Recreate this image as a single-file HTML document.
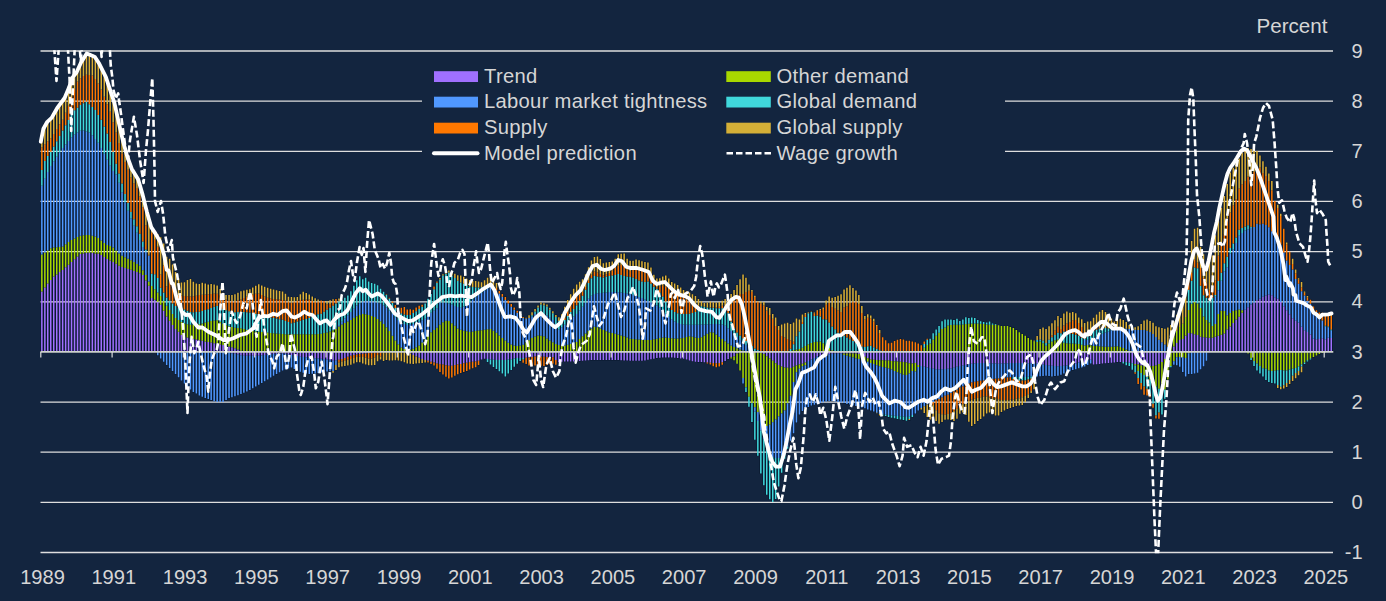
<!DOCTYPE html>
<html><head><meta charset="utf-8"><title>Chart</title><style>html,body{margin:0;padding:0;background:#13253f;}body{width:1386px;height:601px;overflow:hidden}</style></head><body>
<svg width="1386" height="601" viewBox="0 0 1386 601" style="display:block;font-family:'Liberation Sans',sans-serif">
<rect width="1386" height="601" fill="#13253f"/>
<defs><clipPath id="cp"><rect x="38" y="50.3" width="1297" height="503"/></clipPath></defs>
<path fill="#09192f" d="M40.36 136.3h2.971V352.2h-2.971zM43.34 126.0h2.971V352.2h-2.971zM46.31 121.1h2.971V352.2h-2.971zM49.28 118.4h2.971V352.2h-2.971zM52.25 113.9h2.971V352.2h-2.971zM55.22 108.5h2.971V352.2h-2.971zM58.19 104.4h2.971V352.2h-2.971zM61.16 100.4h2.971V352.2h-2.971zM64.13 95.3h2.971V352.2h-2.971zM67.10 88.2h2.971V352.2h-2.971zM70.07 79.5h2.971V352.2h-2.971zM73.05 74.7h2.971V352.2h-2.971zM76.02 70.0h2.971V352.2h-2.971zM78.99 63.3h2.971V352.2h-2.971zM81.96 58.3h2.971V352.2h-2.971zM84.93 53.6h2.971V352.2h-2.971zM87.90 54.3h2.971V352.2h-2.971zM90.87 55.6h2.971V352.2h-2.971zM93.84 57.2h2.971V352.2h-2.971zM96.81 62.0h2.971V352.2h-2.971zM99.78 67.5h2.971V352.2h-2.971zM102.76 73.5h2.971V352.2h-2.971zM105.73 80.9h2.971V352.2h-2.971zM108.70 89.8h2.971V352.2h-2.971zM111.67 98.7h2.971V352.2h-2.971zM114.64 110.2h2.971V352.2h-2.971zM117.61 123.5h2.971V352.2h-2.971zM120.58 136.9h2.971V352.2h-2.971zM123.55 148.3h2.971V352.2h-2.971zM126.52 158.2h2.971V352.2h-2.971zM129.49 166.3h2.971V352.2h-2.971zM132.47 172.1h2.971V352.2h-2.971zM135.44 177.0h2.971V352.2h-2.971zM138.41 185.0h2.971V352.2h-2.971zM141.38 195.6h2.971V352.2h-2.971zM144.35 207.5h2.971V352.2h-2.971zM147.32 218.4h2.971V352.2h-2.971zM150.29 227.6h2.971V352.2h-2.971zM153.26 232.1h2.971V352.2h-2.971zM156.23 233.7h2.971V355.6h-2.971zM159.20 236.9h2.971V358.8h-2.971zM162.18 243.3h2.971V362.0h-2.971zM165.15 256.4h2.971V365.3h-2.971zM168.12 258.5h2.971V368.2h-2.971zM171.09 264.1h2.971V371.2h-2.971zM174.06 271.6h2.971V374.2h-2.971zM177.03 277.7h2.971V377.5h-2.971zM180.00 282.3h2.971V380.8h-2.971zM182.97 281.9h2.971V383.9h-2.971zM185.94 279.8h2.971V386.9h-2.971zM188.91 278.8h2.971V389.9h-2.971zM191.89 281.5h2.971V392.2h-2.971zM194.86 283.1h2.971V393.9h-2.971zM197.83 283.7h2.971V395.7h-2.971zM200.80 282.4h2.971V397.0h-2.971zM203.77 283.1h2.971V398.2h-2.971zM206.74 284.1h2.971V399.4h-2.971zM209.71 283.6h2.971V400.4h-2.971zM212.68 284.2h2.971V401.5h-2.971zM215.65 285.3h2.971V402.3h-2.971zM218.62 288.8h2.971V402.3h-2.971zM221.60 292.4h2.971V402.3h-2.971zM224.57 294.7h2.971V400.3h-2.971zM227.54 294.7h2.971V398.4h-2.971zM230.51 294.7h2.971V397.5h-2.971zM233.48 293.9h2.971V396.6h-2.971zM236.45 292.4h2.971V395.6h-2.971zM239.42 290.9h2.971V394.3h-2.971zM242.39 290.1h2.971V393.0h-2.971zM245.36 289.5h2.971V391.7h-2.971zM248.33 288.9h2.971V390.4h-2.971zM251.31 287.2h2.971V388.6h-2.971zM254.28 285.4h2.971V386.8h-2.971zM257.25 284.0h2.971V385.1h-2.971zM260.22 285.2h2.971V383.3h-2.971zM263.19 286.4h2.971V381.5h-2.971zM266.16 287.5h2.971V379.7h-2.971zM269.13 288.4h2.971V377.9h-2.971zM272.10 289.3h2.971V376.1h-2.971zM275.07 290.0h2.971V374.4h-2.971zM278.04 290.6h2.971V372.6h-2.971zM281.02 291.2h2.971V370.8h-2.971zM283.99 293.5h2.971V369.7h-2.971zM286.96 296.4h2.971V368.8h-2.971zM289.93 296.7h2.971V367.9h-2.971zM292.90 297.0h2.971V369.2h-2.971zM295.87 296.6h2.971V370.6h-2.971zM298.84 294.0h2.971V372.1h-2.971zM301.81 291.4h2.971V373.0h-2.971zM304.78 292.8h2.971V373.8h-2.971zM307.75 294.3h2.971V374.4h-2.971zM310.73 296.1h2.971V374.1h-2.971zM313.70 297.9h2.971V373.8h-2.971zM316.67 299.3h2.971V373.3h-2.971zM319.64 300.1h2.971V372.7h-2.971zM322.61 300.6h2.971V372.1h-2.971zM325.58 300.7h2.971V371.8h-2.971zM328.55 299.9h2.971V371.5h-2.971zM331.52 299.0h2.971V373.1h-2.971zM334.49 298.6h2.971V370.2h-2.971zM337.46 298.3h2.971V367.6h-2.971zM340.44 299.4h2.971V366.9h-2.971zM343.41 297.4h2.971V366.3h-2.971zM346.38 295.2h2.971V365.7h-2.971zM349.35 291.0h2.971V365.0h-2.971zM352.32 285.5h2.971V363.8h-2.971zM355.29 280.0h2.971V362.6h-2.971zM358.26 276.0h2.971V362.5h-2.971zM361.23 279.0h2.971V363.7h-2.971zM364.20 277.4h2.971V364.9h-2.971zM367.17 281.1h2.971V365.5h-2.971zM370.15 282.7h2.971V365.6h-2.971zM373.12 283.4h2.971V365.3h-2.971zM376.09 284.9h2.971V361.6h-2.971zM379.06 288.5h2.971V359.8h-2.971zM382.03 291.5h2.971V361.2h-2.971zM385.00 293.9h2.971V360.4h-2.971zM387.97 297.4h2.971V360.8h-2.971zM390.94 301.1h2.971V360.9h-2.971zM393.91 304.8h2.971V360.5h-2.971zM396.88 307.9h2.971V360.8h-2.971zM399.86 307.5h2.971V361.5h-2.971zM402.83 306.7h2.971V362.5h-2.971zM405.80 309.3h2.971V363.7h-2.971zM408.77 309.0h2.971V364.1h-2.971zM411.74 309.5h2.971V364.3h-2.971zM414.71 307.1h2.971V363.9h-2.971zM417.68 305.4h2.971V363.6h-2.971zM420.65 304.5h2.971V363.2h-2.971zM423.62 303.3h2.971V362.7h-2.971zM426.59 298.4h2.971V362.9h-2.971zM429.57 293.6h2.971V364.2h-2.971zM432.54 286.3h2.971V365.7h-2.971zM435.51 281.1h2.971V369.0h-2.971zM438.48 277.6h2.971V372.2h-2.971zM441.45 274.0h2.971V374.8h-2.971zM444.42 271.8h2.971V377.0h-2.971zM447.39 270.1h2.971V378.7h-2.971zM450.36 271.6h2.971V377.7h-2.971zM453.33 273.4h2.971V376.0h-2.971zM456.30 274.9h2.971V374.5h-2.971zM459.28 275.2h2.971V373.3h-2.971zM462.25 276.5h2.971V372.4h-2.971zM465.22 278.4h2.971V371.4h-2.971zM468.19 279.8h2.971V369.9h-2.971zM471.16 280.7h2.971V368.6h-2.971zM474.13 280.7h2.971V367.5h-2.971zM477.10 281.2h2.971V365.3h-2.971zM480.07 281.9h2.971V359.8h-2.971zM483.04 280.0h2.971V359.1h-2.971zM486.01 277.4h2.971V362.2h-2.971zM488.99 276.7h2.971V364.8h-2.971zM491.96 277.3h2.971V367.2h-2.971zM494.93 282.6h2.971V369.4h-2.971zM497.90 290.6h2.971V371.6h-2.971zM500.87 293.6h2.971V373.9h-2.971zM503.84 296.6h2.971V376.9h-2.971zM506.81 300.1h2.971V373.7h-2.971zM509.78 303.8h2.971V370.3h-2.971zM512.75 307.2h2.971V367.0h-2.971zM515.72 310.5h2.971V364.0h-2.971zM518.70 314.0h2.971V361.4h-2.971zM521.67 316.7h2.971V363.0h-2.971zM524.64 317.5h2.971V364.3h-2.971zM527.61 315.0h2.971V365.8h-2.971zM530.58 312.0h2.971V366.2h-2.971zM533.55 308.7h2.971V365.9h-2.971zM536.52 305.3h2.971V365.8h-2.971zM539.49 302.1h2.971V366.1h-2.971zM542.46 302.9h2.971V366.2h-2.971zM545.43 304.2h2.971V365.4h-2.971zM548.41 307.5h2.971V364.5h-2.971zM551.38 310.9h2.971V364.0h-2.971zM554.35 314.6h2.971V365.0h-2.971zM557.32 317.0h2.971V362.6h-2.971zM560.29 314.0h2.971V362.0h-2.971zM563.26 306.5h2.971V361.7h-2.971zM566.23 299.7h2.971V361.7h-2.971zM569.20 293.9h2.971V361.7h-2.971zM572.17 288.4h2.971V361.7h-2.971zM575.14 284.3h2.971V361.7h-2.971zM578.12 281.4h2.971V361.4h-2.971zM581.09 278.9h2.971V361.1h-2.971zM584.06 273.9h2.971V360.8h-2.971zM587.03 266.9h2.971V360.5h-2.971zM590.00 260.2h2.971V360.4h-2.971zM592.97 256.8h2.971V360.4h-2.971zM595.94 256.3h2.971V360.4h-2.971zM598.91 258.8h2.971V360.4h-2.971zM601.88 263.0h2.971V360.4h-2.971zM604.85 262.3h2.971V360.4h-2.971zM607.83 261.6h2.971V360.4h-2.971zM610.80 261.1h2.971V360.4h-2.971zM613.77 258.5h2.971V360.4h-2.971zM616.74 253.9h2.971V360.4h-2.971zM619.71 253.5h2.971V360.6h-2.971zM622.68 253.2h2.971V360.7h-2.971zM625.65 258.4h2.971V360.9h-2.971zM628.62 260.4h2.971V361.0h-2.971zM631.59 260.4h2.971V361.0h-2.971zM634.56 259.3h2.971V361.0h-2.971zM637.54 259.9h2.971V361.0h-2.971zM640.51 261.0h2.971V361.0h-2.971zM643.48 261.6h2.971V360.7h-2.971zM646.45 262.2h2.971V360.1h-2.971zM649.42 267.1h2.971V359.5h-2.971zM652.39 274.4h2.971V359.0h-2.971zM655.36 278.2h2.971V358.4h-2.971zM658.33 277.9h2.971V358.1h-2.971zM661.30 276.3h2.971V357.8h-2.971zM664.27 275.3h2.971V357.7h-2.971zM667.25 278.1h2.971V357.7h-2.971zM670.22 281.6h2.971V357.9h-2.971zM673.19 283.3h2.971V358.1h-2.971zM676.16 284.8h2.971V358.4h-2.971zM679.13 287.2h2.971V358.7h-2.971zM682.10 289.8h2.971V359.1h-2.971zM685.07 291.0h2.971V359.9h-2.971zM688.04 292.2h2.971V360.8h-2.971zM691.01 293.9h2.971V361.5h-2.971zM693.98 295.7h2.971V362.1h-2.971zM696.96 298.7h2.971V362.4h-2.971zM699.93 300.9h2.971V362.4h-2.971zM702.90 302.8h2.971V362.5h-2.971zM705.87 302.2h2.971V363.7h-2.971zM708.84 301.1h2.971V364.7h-2.971zM711.81 301.9h2.971V366.5h-2.971zM714.78 302.3h2.971V367.5h-2.971zM717.75 301.8h2.971V366.9h-2.971zM720.72 300.4h2.971V365.1h-2.971zM723.69 298.6h2.971V361.3h-2.971zM726.67 296.3h2.971V359.3h-2.971zM729.64 293.6h2.971V358.9h-2.971zM732.61 289.8h2.971V360.5h-2.971zM735.58 284.6h2.971V364.0h-2.971zM738.55 278.9h2.971V370.8h-2.971zM741.52 274.2h2.971V383.8h-2.971zM744.49 277.4h2.971V392.2h-2.971zM747.46 284.1h2.971V407.1h-2.971zM750.43 289.7h2.971V422.4h-2.971zM753.40 295.5h2.971V440.0h-2.971zM756.38 300.8h2.971V456.0h-2.971zM759.35 301.1h2.971V473.8h-2.971zM762.32 301.8h2.971V485.6h-2.971zM765.29 306.8h2.971V495.1h-2.971zM768.26 307.8h2.971V499.6h-2.971zM771.23 313.8h2.971V502.4h-2.971zM774.20 317.3h2.971V499.3h-2.971zM777.17 325.6h2.971V486.8h-2.971zM780.14 324.1h2.971V473.0h-2.971zM783.11 323.2h2.971V459.1h-2.971zM786.09 322.5h2.971V449.0h-2.971zM789.06 323.7h2.971V441.1h-2.971zM792.03 322.1h2.971V433.6h-2.971zM795.00 318.2h2.971V422.9h-2.971zM797.97 319.1h2.971V414.8h-2.971zM800.94 314.3h2.971V411.3h-2.971zM803.91 312.7h2.971V408.9h-2.971zM806.88 311.9h2.971V407.4h-2.971zM809.85 311.1h2.971V405.9h-2.971zM812.82 312.3h2.971V405.0h-2.971zM815.80 309.9h2.971V404.1h-2.971zM818.77 308.7h2.971V403.2h-2.971zM821.74 307.2h2.971V402.5h-2.971zM824.71 300.3h2.971V401.9h-2.971zM827.68 296.2h2.971V401.3h-2.971zM830.65 297.4h2.971V401.3h-2.971zM833.62 296.6h2.971V401.8h-2.971zM836.59 295.4h2.971V402.3h-2.971zM839.56 294.0h2.971V402.8h-2.971zM842.53 289.3h2.971V403.4h-2.971zM845.51 287.4h2.971V404.2h-2.971zM848.48 284.9h2.971V404.9h-2.971zM851.45 287.8h2.971V405.7h-2.971zM854.42 290.2h2.971V406.4h-2.971zM857.39 294.8h2.971V407.1h-2.971zM860.36 305.7h2.971V407.9h-2.971zM863.33 315.7h2.971V408.6h-2.971zM866.30 314.0h2.971V409.7h-2.971zM869.27 315.3h2.971V410.8h-2.971zM872.24 318.5h2.971V411.9h-2.971zM875.22 324.8h2.971V413.6h-2.971zM878.19 329.8h2.971V415.8h-2.971zM881.16 336.9h2.971V416.1h-2.971zM884.13 339.9h2.971V416.2h-2.971zM887.10 342.9h2.971V417.4h-2.971zM890.07 342.5h2.971V418.0h-2.971zM893.04 340.7h2.971V418.6h-2.971zM896.01 339.4h2.971V419.2h-2.971zM898.98 338.6h2.971V419.8h-2.971zM901.95 339.1h2.971V420.4h-2.971zM904.93 340.5h2.971V421.0h-2.971zM907.90 340.5h2.971V420.4h-2.971zM910.87 341.1h2.971V417.2h-2.971zM913.84 342.0h2.971V413.9h-2.971zM916.81 343.1h2.971V410.9h-2.971zM919.78 344.9h2.971V409.7h-2.971zM922.75 341.1h2.971V413.2h-2.971zM925.72 338.5h2.971V417.2h-2.971zM928.69 338.5h2.971V419.9h-2.971zM931.66 332.9h2.971V420.0h-2.971zM934.64 329.3h2.971V421.3h-2.971zM937.61 325.8h2.971V424.1h-2.971zM940.58 321.0h2.971V422.2h-2.971zM943.55 319.1h2.971V420.0h-2.971zM946.52 319.1h2.971V419.7h-2.971zM949.49 319.1h2.971V420.2h-2.971zM952.46 319.6h2.971V421.3h-2.971zM955.43 318.5h2.971V419.0h-2.971zM958.40 320.7h2.971V414.1h-2.971zM961.37 319.2h2.971V412.8h-2.971zM964.35 316.9h2.971V415.3h-2.971zM967.32 317.6h2.971V422.0h-2.971zM970.29 317.1h2.971V426.4h-2.971zM973.26 317.7h2.971V424.3h-2.971zM976.23 319.7h2.971V421.2h-2.971zM979.20 320.9h2.971V419.4h-2.971zM982.17 321.7h2.971V416.9h-2.971zM985.14 322.3h2.971V413.9h-2.971zM988.11 321.2h2.971V412.8h-2.971zM991.08 323.3h2.971V414.0h-2.971zM994.06 323.7h2.971V415.7h-2.971zM997.03 325.0h2.971V415.7h-2.971zM1000.00 325.7h2.971V412.4h-2.971zM1002.97 325.7h2.971V410.9h-2.971zM1005.94 325.7h2.971V409.4h-2.971zM1008.91 326.6h2.971V408.3h-2.971zM1011.88 327.6h2.971V407.3h-2.971zM1014.85 329.6h2.971V406.3h-2.971zM1017.82 332.0h2.971V405.8h-2.971zM1020.79 333.7h2.971V405.2h-2.971zM1023.77 335.4h2.971V402.6h-2.971zM1026.74 337.6h2.971V398.3h-2.971zM1029.71 339.4h2.971V393.2h-2.971zM1032.68 340.1h2.971V389.6h-2.971zM1035.65 335.8h2.971V376.7h-2.971zM1038.62 328.7h2.971V376.5h-2.971zM1041.59 327.1h2.971V376.2h-2.971zM1044.56 328.8h2.971V376.1h-2.971zM1047.53 326.0h2.971V376.4h-2.971zM1050.50 323.0h2.971V376.7h-2.971zM1053.48 320.0h2.971V376.4h-2.971zM1056.45 315.8h2.971V376.1h-2.971zM1059.42 317.6h2.971V375.1h-2.971zM1062.39 313.1h2.971V373.9h-2.971zM1065.36 311.3h2.971V372.7h-2.971zM1068.33 312.4h2.971V371.5h-2.971zM1071.30 311.8h2.971V370.4h-2.971zM1074.27 313.0h2.971V369.5h-2.971zM1077.24 317.2h2.971V368.6h-2.971zM1080.21 319.0h2.971V367.7h-2.971zM1083.19 322.6h2.971V366.8h-2.971zM1086.16 321.3h2.971V365.3h-2.971zM1089.13 321.0h2.971V363.9h-2.971zM1092.10 317.5h2.971V364.8h-2.971zM1095.07 314.2h2.971V364.5h-2.971zM1098.04 311.4h2.971V364.2h-2.971zM1101.01 309.8h2.971V363.9h-2.971zM1103.98 311.6h2.971V363.6h-2.971zM1106.95 315.1h2.971V363.3h-2.971zM1109.92 318.1h2.971V363.0h-2.971zM1112.90 321.1h2.971V362.7h-2.971zM1115.87 318.7h2.971V362.4h-2.971zM1118.84 318.4h2.971V362.3h-2.971zM1121.81 319.6h2.971V363.9h-2.971zM1124.78 321.7h2.971V365.6h-2.971zM1127.75 324.6h2.971V366.2h-2.971zM1130.72 326.3h2.971V370.1h-2.971zM1133.69 327.0h2.971V374.1h-2.971zM1136.66 325.9h2.971V384.2h-2.971zM1139.63 323.7h2.971V389.9h-2.971zM1142.61 320.1h2.971V395.1h-2.971zM1145.58 319.1h2.971V395.7h-2.971zM1148.55 320.8h2.971V397.6h-2.971zM1151.52 322.4h2.971V408.1h-2.971zM1154.49 325.9h2.971V418.8h-2.971zM1157.46 327.0h2.971V419.1h-2.971zM1160.43 327.6h2.971V414.7h-2.971zM1163.40 328.4h2.971V399.1h-2.971zM1166.37 327.3h2.971V379.9h-2.971zM1169.34 324.7h2.971V367.6h-2.971zM1172.32 321.0h2.971V365.0h-2.971zM1175.29 314.5h2.971V365.6h-2.971zM1178.26 309.8h2.971V367.0h-2.971zM1181.23 298.0h2.971V372.3h-2.971zM1184.20 286.4h2.971V376.8h-2.971zM1187.17 268.5h2.971V374.2h-2.971zM1190.14 240.8h2.971V374.3h-2.971zM1193.11 228.5h2.971V373.7h-2.971zM1196.08 227.5h2.971V373.1h-2.971zM1199.05 246.6h2.971V369.6h-2.971zM1202.03 253.9h2.971V366.6h-2.971zM1205.00 267.0h2.971V361.0h-2.971zM1207.97 258.7h2.971V352.2h-2.971zM1210.94 255.1h2.971V352.2h-2.971zM1213.91 234.9h2.971V352.2h-2.971zM1216.88 220.2h2.971V352.2h-2.971zM1219.85 207.5h2.971V352.2h-2.971zM1222.82 195.6h2.971V352.2h-2.971zM1225.79 183.7h2.971V352.2h-2.971zM1228.76 172.2h2.971V352.2h-2.971zM1231.74 167.4h2.971V352.2h-2.971zM1234.71 162.7h2.971V352.2h-2.971zM1237.68 158.2h2.971V352.2h-2.971zM1240.65 152.4h2.971V352.2h-2.971zM1243.62 149.9h2.971V352.2h-2.971zM1246.59 147.6h2.971V353.7h-2.971zM1249.56 148.7h2.971V360.2h-2.971zM1252.53 150.3h2.971V366.2h-2.971zM1255.50 150.6h2.971V370.8h-2.971zM1258.47 155.3h2.971V373.9h-2.971zM1261.45 160.9h2.971V376.7h-2.971zM1264.42 166.4h2.971V380.2h-2.971zM1267.39 173.3h2.971V382.2h-2.971zM1270.36 180.8h2.971V383.2h-2.971zM1273.33 200.7h2.971V383.9h-2.971zM1276.30 204.5h2.971V388.2h-2.971zM1279.27 213.5h2.971V389.6h-2.971zM1282.24 228.5h2.971V388.9h-2.971zM1285.21 242.3h2.971V387.4h-2.971zM1288.18 251.5h2.971V384.4h-2.971zM1291.16 258.5h2.971V381.4h-2.971zM1294.13 269.3h2.971V378.5h-2.971zM1297.10 277.9h2.971V375.5h-2.971zM1300.07 281.8h2.971V372.6h-2.971zM1303.04 291.3h2.971V364.2h-2.971zM1306.01 295.8h2.971V361.8h-2.971zM1308.98 299.3h2.971V359.8h-2.971zM1311.95 306.3h2.971V357.4h-2.971zM1314.92 309.9h2.971V355.9h-2.971zM1317.89 312.3h2.971V354.4h-2.971zM1320.87 312.4h2.971V353.2h-2.971zM1323.84 313.7h2.971V352.6h-2.971zM1326.81 313.7h2.971V352.2h-2.971zM1329.78 313.2h2.971V352.2h-2.971zM1332.75 351.6h2.971V352.2h-2.971z"/>
<g stroke="#dedede" stroke-width="1.3"><line x1="40.5" x2="1333" y1="552.5" y2="552.5"/><line x1="40.5" x2="1333" y1="502.3" y2="502.3"/><line x1="40.5" x2="1333" y1="452.2" y2="452.2"/><line x1="40.5" x2="1333" y1="402.1" y2="402.1"/><line x1="40.5" x2="1333" y1="301.8" y2="301.8"/><line x1="40.5" x2="1333" y1="251.6" y2="251.6"/><line x1="40.5" x2="1333" y1="201.4" y2="201.4"/><line x1="40.5" x2="1333" y1="151.3" y2="151.3"/><line x1="40.5" x2="1333" y1="101.2" y2="101.2"/><line x1="40.5" x2="1333" y1="51.0" y2="51.0"/></g>
<path fill="#a070ff" d="M41.1 291.4h1.5V351.9h-1.5zM44.1 287.4h1.5V351.9h-1.5zM47.0 283.6h1.5V351.9h-1.5zM50.0 280.1h1.5V351.9h-1.5zM53.0 276.6h1.5V351.9h-1.5zM56.0 274.4h1.5V351.9h-1.5zM58.9 272.1h1.5V351.9h-1.5zM61.9 269.9h1.5V351.9h-1.5zM64.9 267.3h1.5V351.9h-1.5zM67.8 264.7h1.5V351.9h-1.5zM70.8 262.1h1.5V351.9h-1.5zM73.8 259.2h1.5V351.9h-1.5zM76.8 256.4h1.5V351.9h-1.5zM79.7 254.1h1.5V351.9h-1.5zM82.7 253.6h1.5V351.9h-1.5zM85.7 253.1h1.5V351.9h-1.5zM88.6 252.8h1.5V351.9h-1.5zM91.6 253.1h1.5V351.9h-1.5zM94.6 253.4h1.5V351.9h-1.5zM97.5 253.7h1.5V351.9h-1.5zM100.5 255.1h1.5V351.9h-1.5zM103.5 257.1h1.5V351.9h-1.5zM106.5 258.9h1.5V351.9h-1.5zM109.4 260.4h1.5V351.9h-1.5zM112.4 261.9h1.5V351.9h-1.5zM115.4 263.8h1.5V351.9h-1.5zM118.3 265.7h1.5V351.9h-1.5zM121.3 267.1h1.5V351.9h-1.5zM124.3 268.0h1.5V351.9h-1.5zM127.3 268.9h1.5V351.9h-1.5zM130.2 269.8h1.5V351.9h-1.5zM133.2 270.9h1.5V351.9h-1.5zM136.2 272.1h1.5V351.9h-1.5zM139.1 273.3h1.5V351.9h-1.5zM142.1 274.9h1.5V351.9h-1.5zM145.1 280.4h1.5V351.9h-1.5zM148.1 285.8h1.5V351.9h-1.5zM151.0 297.9h1.5V351.9h-1.5zM154.0 299.8h1.5V351.9h-1.5zM157.0 301.8h1.5V351.9h-1.5zM159.9 304.7h1.5V351.9h-1.5zM162.9 310.7h1.5V351.9h-1.5zM165.9 316.6h1.5V351.9h-1.5zM168.9 320.8h1.5V351.9h-1.5zM171.8 324.9h1.5V351.9h-1.5zM174.8 328.9h1.5V351.9h-1.5zM177.8 331.8h1.5V351.9h-1.5zM180.7 334.8h1.5V351.9h-1.5zM183.7 336.9h1.5V351.9h-1.5zM186.7 337.6h1.5V351.9h-1.5zM189.7 338.2h1.5V351.9h-1.5zM192.6 338.9h1.5V351.9h-1.5zM195.6 339.5h1.5V351.9h-1.5zM198.6 340.2h1.5V351.9h-1.5zM201.5 340.8h1.5V351.9h-1.5zM204.5 341.4h1.5V351.9h-1.5zM207.5 342.0h1.5V351.9h-1.5zM210.4 342.6h1.5V351.9h-1.5zM213.4 343.2h1.5V351.9h-1.5zM216.4 343.8h1.5V351.9h-1.5zM219.4 344.5h1.5V351.9h-1.5zM222.3 345.1h1.5V351.9h-1.5zM225.3 345.8h1.5V351.9h-1.5zM228.3 346.5h1.5V351.9h-1.5zM231.2 351.9h1.5V353.3h-1.5zM231.2 347.2h1.5V351.9h-1.5zM234.2 351.9h1.5V353.7h-1.5zM234.2 348.2h1.5V351.9h-1.5zM237.2 351.9h1.5V354.5h-1.5zM237.2 349.4h1.5V351.9h-1.5zM240.2 351.9h1.5V355.2h-1.5zM240.2 350.7h1.5V351.9h-1.5zM243.1 351.9h1.5V355.8h-1.5zM243.1 351.7h1.5V351.9h-1.5zM246.1 351.9h1.5V355.8h-1.5zM249.1 351.9h1.5V355.8h-1.5zM252.0 351.9h1.5V355.8h-1.5zM255.0 351.9h1.5V355.8h-1.5zM258.0 351.9h1.5V355.8h-1.5zM261.0 351.9h1.5V355.4h-1.5zM263.9 351.9h1.5V354.9h-1.5zM266.9 351.9h1.5V354.5h-1.5zM269.9 351.9h1.5V354.1h-1.5zM272.8 351.9h1.5V353.9h-1.5zM275.8 351.9h1.5V353.8h-1.5zM278.8 351.9h1.5V353.6h-1.5zM281.8 351.9h1.5V353.4h-1.5zM284.7 351.9h1.5V353.8h-1.5zM287.7 351.9h1.5V354.4h-1.5zM290.7 351.9h1.5V354.9h-1.5zM293.6 351.9h1.5V355.5h-1.5zM296.6 351.9h1.5V356.1h-1.5zM299.6 351.9h1.5V356.7h-1.5zM302.5 351.9h1.5V357.0h-1.5zM305.5 351.9h1.5V357.3h-1.5zM308.5 351.9h1.5V357.6h-1.5zM311.5 351.9h1.5V357.9h-1.5zM314.4 351.9h1.5V358.2h-1.5zM317.4 351.9h1.5V358.5h-1.5zM320.4 351.9h1.5V358.8h-1.5zM323.3 351.9h1.5V359.1h-1.5zM326.3 351.9h1.5V359.6h-1.5zM329.3 351.9h1.5V360.2h-1.5zM332.3 351.9h1.5V360.8h-1.5zM335.2 351.9h1.5V360.3h-1.5zM338.2 351.9h1.5V359.7h-1.5zM341.2 351.9h1.5V359.1h-1.5zM344.1 351.9h1.5V357.9h-1.5zM347.1 351.9h1.5V356.7h-1.5zM350.1 351.9h1.5V355.7h-1.5zM353.1 351.9h1.5V355.1h-1.5zM356.0 351.9h1.5V354.5h-1.5zM359.0 351.9h1.5V354.0h-1.5zM362.0 351.9h1.5V353.7h-1.5zM364.9 351.9h1.5V353.4h-1.5zM367.9 351.9h1.5V353.1h-1.5zM370.9 351.9h1.5V352.8h-1.5zM373.9 351.9h1.5V352.5h-1.5zM409.5 351.9h1.5V353.5h-1.5zM412.5 351.9h1.5V355.0h-1.5zM415.4 351.9h1.5V356.4h-1.5zM418.4 351.9h1.5V357.7h-1.5zM421.4 351.9h1.5V358.9h-1.5zM424.4 351.9h1.5V359.9h-1.5zM427.3 351.9h1.5V360.8h-1.5zM430.3 351.9h1.5V361.7h-1.5zM433.3 351.9h1.5V362.6h-1.5zM436.2 351.9h1.5V363.4h-1.5zM439.2 351.9h1.5V364.0h-1.5zM442.2 351.9h1.5V364.6h-1.5zM445.2 351.9h1.5V365.2h-1.5zM448.1 351.9h1.5V365.8h-1.5zM451.1 351.9h1.5V365.7h-1.5zM454.1 351.9h1.5V365.1h-1.5zM457.0 351.9h1.5V364.5h-1.5zM460.0 351.9h1.5V363.9h-1.5zM463.0 351.9h1.5V363.3h-1.5zM466.0 351.9h1.5V362.7h-1.5zM468.9 351.9h1.5V362.1h-1.5zM471.9 351.9h1.5V361.8h-1.5zM474.9 351.9h1.5V361.5h-1.5zM477.8 351.9h1.5V360.7h-1.5zM480.8 351.9h1.5V359.5h-1.5zM483.8 351.9h1.5V358.8h-1.5zM486.8 351.9h1.5V359.1h-1.5zM489.7 351.9h1.5V359.4h-1.5zM492.7 351.9h1.5V359.7h-1.5zM495.7 351.9h1.5V360.0h-1.5zM498.6 351.9h1.5V360.1h-1.5zM501.6 351.9h1.5V360.1h-1.5zM504.6 351.9h1.5V359.9h-1.5zM507.5 351.9h1.5V359.6h-1.5zM510.5 351.9h1.5V359.2h-1.5zM513.5 351.9h1.5V358.6h-1.5zM516.5 351.9h1.5V358.1h-1.5zM519.4 351.9h1.5V358.1h-1.5zM522.4 351.9h1.5V358.1h-1.5zM525.4 351.9h1.5V357.8h-1.5zM528.3 351.9h1.5V357.5h-1.5zM531.3 351.9h1.5V357.0h-1.5zM534.3 351.9h1.5V356.4h-1.5zM537.3 351.9h1.5V356.2h-1.5zM540.2 351.9h1.5V356.5h-1.5zM543.2 351.9h1.5V356.7h-1.5zM546.2 351.9h1.5V356.9h-1.5zM549.1 351.9h1.5V357.1h-1.5zM552.1 351.9h1.5V357.3h-1.5zM555.1 351.9h1.5V360.0h-1.5zM558.1 351.9h1.5V362.3h-1.5zM561.0 351.9h1.5V361.7h-1.5zM564.0 351.9h1.5V361.4h-1.5zM567.0 351.9h1.5V361.4h-1.5zM569.9 351.9h1.5V361.4h-1.5zM572.9 351.9h1.5V361.4h-1.5zM575.9 351.9h1.5V361.4h-1.5zM578.9 351.9h1.5V361.1h-1.5zM581.8 351.9h1.5V360.8h-1.5zM584.8 351.9h1.5V360.5h-1.5zM587.8 351.9h1.5V360.2h-1.5zM590.7 351.9h1.5V360.1h-1.5zM593.7 351.9h1.5V360.1h-1.5zM596.7 351.9h1.5V360.1h-1.5zM599.6 351.9h1.5V360.1h-1.5zM602.6 351.9h1.5V360.1h-1.5zM605.6 351.9h1.5V360.1h-1.5zM608.6 351.9h1.5V360.1h-1.5zM611.5 351.9h1.5V360.1h-1.5zM614.5 351.9h1.5V360.1h-1.5zM617.5 351.9h1.5V360.1h-1.5zM620.4 351.9h1.5V360.3h-1.5zM623.4 351.9h1.5V360.4h-1.5zM626.4 351.9h1.5V360.6h-1.5zM629.4 351.9h1.5V360.7h-1.5zM632.3 351.9h1.5V360.7h-1.5zM635.3 351.9h1.5V360.7h-1.5zM638.3 351.9h1.5V360.7h-1.5zM641.2 351.9h1.5V360.7h-1.5zM644.2 351.9h1.5V360.4h-1.5zM647.2 351.9h1.5V359.8h-1.5zM650.2 351.9h1.5V359.2h-1.5zM653.1 351.9h1.5V358.7h-1.5zM656.1 351.9h1.5V358.1h-1.5zM659.1 351.9h1.5V357.8h-1.5zM662.0 351.9h1.5V357.5h-1.5zM665.0 351.9h1.5V357.4h-1.5zM668.0 351.9h1.5V357.4h-1.5zM671.0 351.9h1.5V357.6h-1.5zM673.9 351.9h1.5V357.8h-1.5zM676.9 351.9h1.5V358.1h-1.5zM679.9 351.9h1.5V358.4h-1.5zM682.8 351.9h1.5V358.8h-1.5zM685.8 351.9h1.5V359.6h-1.5zM688.8 351.9h1.5V360.5h-1.5zM691.7 351.9h1.5V361.2h-1.5zM694.7 351.9h1.5V361.8h-1.5zM697.7 351.9h1.5V362.1h-1.5zM700.7 351.9h1.5V362.1h-1.5zM703.6 351.9h1.5V362.2h-1.5zM706.6 351.9h1.5V362.5h-1.5zM709.6 351.9h1.5V362.7h-1.5zM712.5 351.9h1.5V363.0h-1.5zM715.5 351.9h1.5V363.3h-1.5zM718.5 351.9h1.5V362.9h-1.5zM721.5 351.9h1.5V362.3h-1.5zM724.4 351.9h1.5V361.0h-1.5zM727.4 351.9h1.5V359.0h-1.5zM730.4 351.9h1.5V357.3h-1.5zM733.3 351.9h1.5V356.2h-1.5zM736.3 351.9h1.5V353.4h-1.5zM760.1 351.9h1.5V352.7h-1.5zM763.1 351.9h1.5V354.0h-1.5zM766.0 351.9h1.5V356.3h-1.5zM769.0 351.9h1.5V358.5h-1.5zM772.0 351.9h1.5V360.8h-1.5zM774.9 351.9h1.5V363.2h-1.5zM777.9 351.9h1.5V365.0h-1.5zM780.9 351.9h1.5V366.5h-1.5zM783.9 351.9h1.5V367.5h-1.5zM786.8 351.9h1.5V367.8h-1.5zM789.8 351.9h1.5V367.9h-1.5zM792.8 351.9h1.5V366.7h-1.5zM795.7 351.9h1.5V365.5h-1.5zM798.7 351.9h1.5V364.6h-1.5zM801.7 351.9h1.5V363.7h-1.5zM804.6 351.9h1.5V362.4h-1.5zM807.6 351.9h1.5V360.9h-1.5zM810.6 351.9h1.5V359.4h-1.5zM813.6 351.9h1.5V358.0h-1.5zM816.5 351.9h1.5V356.6h-1.5zM819.5 351.9h1.5V355.8h-1.5zM822.5 351.9h1.5V355.0h-1.5zM825.4 351.9h1.5V354.6h-1.5zM828.4 351.9h1.5V354.2h-1.5zM831.4 351.9h1.5V353.8h-1.5zM834.4 351.9h1.5V353.5h-1.5zM837.3 351.9h1.5V353.4h-1.5zM840.3 351.9h1.5V353.4h-1.5zM843.3 351.9h1.5V353.4h-1.5zM846.2 351.9h1.5V353.4h-1.5zM849.2 351.9h1.5V353.4h-1.5zM852.2 351.9h1.5V353.5h-1.5zM855.2 351.9h1.5V353.6h-1.5zM858.1 351.9h1.5V354.0h-1.5zM861.1 351.9h1.5V355.3h-1.5zM864.1 351.9h1.5V356.7h-1.5zM867.0 351.9h1.5V358.2h-1.5zM870.0 351.9h1.5V359.4h-1.5zM873.0 351.9h1.5V359.7h-1.5zM876.0 351.9h1.5V360.0h-1.5zM878.9 351.9h1.5V360.2h-1.5zM881.9 351.9h1.5V360.3h-1.5zM884.9 351.9h1.5V360.5h-1.5zM887.8 351.9h1.5V360.6h-1.5zM890.8 351.9h1.5V360.9h-1.5zM893.8 351.9h1.5V361.2h-1.5zM896.7 351.9h1.5V361.4h-1.5zM899.7 351.9h1.5V361.7h-1.5zM902.7 351.9h1.5V362.0h-1.5zM905.7 351.9h1.5V362.6h-1.5zM908.6 351.9h1.5V363.2h-1.5zM911.6 351.9h1.5V363.5h-1.5zM914.6 351.9h1.5V362.9h-1.5zM917.5 351.9h1.5V365.0h-1.5zM920.5 351.9h1.5V365.9h-1.5zM923.5 351.9h1.5V366.8h-1.5zM926.5 351.9h1.5V367.5h-1.5zM929.4 351.9h1.5V368.1h-1.5zM932.4 351.9h1.5V368.7h-1.5zM935.4 351.9h1.5V369.2h-1.5zM938.3 351.9h1.5V369.6h-1.5zM941.3 351.9h1.5V369.3h-1.5zM944.3 351.9h1.5V369.0h-1.5zM947.3 351.9h1.5V368.7h-1.5zM950.2 351.9h1.5V368.4h-1.5zM953.2 351.9h1.5V367.7h-1.5zM956.2 351.9h1.5V366.8h-1.5zM959.1 351.9h1.5V366.1h-1.5zM962.1 351.9h1.5V365.5h-1.5zM965.1 351.9h1.5V364.9h-1.5zM968.1 351.9h1.5V364.3h-1.5zM971.0 351.9h1.5V363.7h-1.5zM974.0 351.9h1.5V363.4h-1.5zM977.0 351.9h1.5V363.1h-1.5zM979.9 351.9h1.5V363.0h-1.5zM982.9 351.9h1.5V363.0h-1.5zM985.9 351.9h1.5V363.1h-1.5zM988.8 351.9h1.5V363.2h-1.5zM991.8 351.9h1.5V363.4h-1.5zM994.8 351.9h1.5V363.5h-1.5zM997.8 351.9h1.5V363.7h-1.5zM1000.7 351.9h1.5V363.5h-1.5zM1003.7 351.9h1.5V363.4h-1.5zM1006.7 351.9h1.5V363.2h-1.5zM1009.6 351.9h1.5V363.1h-1.5zM1012.6 351.9h1.5V363.0h-1.5zM1015.6 351.9h1.5V363.0h-1.5zM1018.6 351.9h1.5V363.0h-1.5zM1021.5 351.9h1.5V363.0h-1.5zM1024.5 351.9h1.5V363.0h-1.5zM1027.5 351.9h1.5V363.2h-1.5zM1030.4 351.9h1.5V363.3h-1.5zM1033.4 351.9h1.5V363.5h-1.5zM1036.4 351.9h1.5V363.6h-1.5zM1039.4 351.9h1.5V364.0h-1.5zM1042.3 351.9h1.5V364.6h-1.5zM1045.3 351.9h1.5V365.1h-1.5zM1048.3 351.9h1.5V365.4h-1.5zM1051.2 351.9h1.5V365.7h-1.5zM1054.2 351.9h1.5V366.0h-1.5zM1057.2 351.9h1.5V366.3h-1.5zM1060.2 351.9h1.5V366.1h-1.5zM1063.1 351.9h1.5V365.8h-1.5zM1066.1 351.9h1.5V365.5h-1.5zM1069.1 351.9h1.5V365.2h-1.5zM1072.0 351.9h1.5V364.7h-1.5zM1075.0 351.9h1.5V363.5h-1.5zM1078.0 351.9h1.5V362.4h-1.5zM1081.0 351.9h1.5V362.6h-1.5zM1083.9 351.9h1.5V362.8h-1.5zM1086.9 351.9h1.5V359.9h-1.5zM1089.9 351.9h1.5V359.7h-1.5zM1092.8 351.9h1.5V364.5h-1.5zM1095.8 351.9h1.5V364.2h-1.5zM1098.8 351.9h1.5V363.9h-1.5zM1101.7 351.9h1.5V363.6h-1.5zM1104.7 351.9h1.5V363.3h-1.5zM1107.7 351.9h1.5V363.0h-1.5zM1110.7 351.9h1.5V362.7h-1.5zM1113.6 351.9h1.5V362.4h-1.5zM1116.6 351.9h1.5V362.1h-1.5zM1119.6 351.9h1.5V362.0h-1.5zM1122.5 351.9h1.5V362.0h-1.5zM1125.5 351.9h1.5V362.3h-1.5zM1128.5 351.9h1.5V362.7h-1.5zM1131.5 351.9h1.5V363.3h-1.5zM1134.4 351.9h1.5V363.9h-1.5zM1137.4 351.9h1.5V364.6h-1.5zM1140.4 351.9h1.5V365.4h-1.5zM1143.3 351.9h1.5V365.7h-1.5zM1146.3 351.9h1.5V366.0h-1.5zM1149.3 351.9h1.5V366.0h-1.5zM1152.3 351.9h1.5V365.9h-1.5zM1155.2 351.9h1.5V365.5h-1.5zM1158.2 351.9h1.5V364.1h-1.5zM1161.2 351.9h1.5V361.9h-1.5zM1164.1 351.9h1.5V358.9h-1.5zM1167.1 351.9h1.5V355.9h-1.5zM1170.1 351.9h1.5V352.7h-1.5zM1170.1 351.4h1.5V351.9h-1.5zM1173.1 346.6h1.5V351.9h-1.5zM1176.0 343.1h1.5V351.9h-1.5zM1179.0 340.1h1.5V351.9h-1.5zM1182.0 338.9h1.5V351.9h-1.5zM1184.9 335.7h1.5V351.9h-1.5zM1187.9 333.1h1.5V351.9h-1.5zM1190.9 333.3h1.5V351.9h-1.5zM1193.8 334.2h1.5V351.9h-1.5zM1196.8 335.1h1.5V351.9h-1.5zM1199.8 336.8h1.5V351.9h-1.5zM1202.8 337.2h1.5V351.9h-1.5zM1205.7 337.4h1.5V351.9h-1.5zM1208.7 337.8h1.5V351.9h-1.5zM1211.7 337.8h1.5V351.9h-1.5zM1214.6 336.8h1.5V351.9h-1.5zM1217.6 335.8h1.5V351.9h-1.5zM1220.6 334.7h1.5V351.9h-1.5zM1223.6 333.6h1.5V351.9h-1.5zM1226.5 329.4h1.5V351.9h-1.5zM1229.5 326.5h1.5V351.9h-1.5zM1232.5 323.0h1.5V351.9h-1.5zM1235.4 319.4h1.5V351.9h-1.5zM1238.4 316.7h1.5V351.9h-1.5zM1241.4 312.7h1.5V351.9h-1.5zM1244.4 309.8h1.5V351.9h-1.5zM1247.3 307.2h1.5V351.9h-1.5zM1250.3 304.6h1.5V351.9h-1.5zM1253.3 302.7h1.5V351.9h-1.5zM1256.2 300.3h1.5V351.9h-1.5zM1259.2 298.7h1.5V351.9h-1.5zM1262.2 296.7h1.5V351.9h-1.5zM1265.2 295.5h1.5V351.9h-1.5zM1268.1 294.5h1.5V351.9h-1.5zM1271.1 295.3h1.5V351.9h-1.5zM1274.1 297.2h1.5V351.9h-1.5zM1277.0 298.8h1.5V351.9h-1.5zM1280.0 302.1h1.5V351.9h-1.5zM1283.0 306.2h1.5V351.9h-1.5zM1285.9 310.3h1.5V351.9h-1.5zM1288.9 314.3h1.5V351.9h-1.5zM1291.9 318.3h1.5V351.9h-1.5zM1294.9 320.7h1.5V351.9h-1.5zM1297.8 322.6h1.5V351.9h-1.5zM1300.8 326.8h1.5V351.9h-1.5zM1303.8 330.3h1.5V351.9h-1.5zM1306.7 332.1h1.5V351.9h-1.5zM1309.7 334.5h1.5V351.9h-1.5zM1312.7 338.7h1.5V351.9h-1.5zM1315.7 339.3h1.5V351.9h-1.5zM1318.6 338.9h1.5V351.9h-1.5zM1321.6 338.2h1.5V351.9h-1.5zM1324.6 339.3h1.5V351.9h-1.5zM1327.5 337.7h1.5V351.9h-1.5zM1330.5 338.0h1.5V351.9h-1.5z"/>
<path fill="#a8d800" d="M41.1 254.5h1.5V291.4h-1.5zM44.1 252.4h1.5V287.4h-1.5zM47.0 250.4h1.5V283.6h-1.5zM50.0 248.3h1.5V280.1h-1.5zM53.0 247.5h1.5V276.6h-1.5zM56.0 247.2h1.5V274.4h-1.5zM58.9 246.9h1.5V272.1h-1.5zM61.9 246.4h1.5V269.9h-1.5zM64.9 244.2h1.5V267.3h-1.5zM67.8 242.0h1.5V264.7h-1.5zM70.8 239.9h1.5V262.1h-1.5zM73.8 238.4h1.5V259.2h-1.5zM76.8 236.9h1.5V256.4h-1.5zM79.7 235.7h1.5V254.1h-1.5zM82.7 235.3h1.5V253.6h-1.5zM85.7 234.9h1.5V253.1h-1.5zM88.6 234.9h1.5V252.8h-1.5zM91.6 235.7h1.5V253.1h-1.5zM94.6 236.4h1.5V253.4h-1.5zM97.5 237.9h1.5V253.7h-1.5zM100.5 240.5h1.5V255.1h-1.5zM103.5 243.1h1.5V257.1h-1.5zM106.5 244.9h1.5V258.9h-1.5zM109.4 245.9h1.5V260.4h-1.5zM112.4 247.5h1.5V261.9h-1.5zM115.4 250.5h1.5V263.8h-1.5zM118.3 253.4h1.5V265.7h-1.5zM121.3 255.8h1.5V267.1h-1.5zM124.3 257.3h1.5V268.0h-1.5zM127.3 258.8h1.5V268.9h-1.5zM130.2 260.3h1.5V269.8h-1.5zM133.2 262.0h1.5V270.9h-1.5zM136.2 263.9h1.5V272.1h-1.5zM139.1 265.8h1.5V273.3h-1.5zM142.1 270.2h1.5V274.9h-1.5zM145.1 275.1h1.5V280.4h-1.5zM148.1 281.4h1.5V285.8h-1.5zM151.0 286.0h1.5V297.9h-1.5zM154.0 289.2h1.5V299.8h-1.5zM157.0 292.5h1.5V301.8h-1.5zM159.9 296.1h1.5V304.7h-1.5zM162.9 300.9h1.5V310.7h-1.5zM165.9 305.8h1.5V316.6h-1.5zM168.9 309.9h1.5V320.8h-1.5zM171.8 314.1h1.5V324.9h-1.5zM174.8 317.9h1.5V328.9h-1.5zM177.8 320.0h1.5V331.8h-1.5zM180.7 322.0h1.5V334.8h-1.5zM183.7 323.6h1.5V336.9h-1.5zM186.7 324.2h1.5V337.6h-1.5zM189.7 324.7h1.5V338.2h-1.5zM192.6 324.8h1.5V338.9h-1.5zM195.6 324.5h1.5V339.5h-1.5zM198.6 324.2h1.5V340.2h-1.5zM201.5 323.5h1.5V340.8h-1.5zM204.5 322.6h1.5V341.4h-1.5zM207.5 321.7h1.5V342.0h-1.5zM210.4 321.1h1.5V342.6h-1.5zM213.4 320.5h1.5V343.2h-1.5zM216.4 320.3h1.5V343.8h-1.5zM219.4 322.1h1.5V344.5h-1.5zM222.3 323.8h1.5V345.1h-1.5zM225.3 325.3h1.5V345.8h-1.5zM228.3 326.2h1.5V346.5h-1.5zM231.2 327.1h1.5V347.2h-1.5zM234.2 327.7h1.5V348.2h-1.5zM237.2 328.0h1.5V349.4h-1.5zM240.2 328.3h1.5V350.7h-1.5zM243.1 329.0h1.5V351.7h-1.5zM246.1 329.9h1.5V351.9h-1.5zM249.1 330.8h1.5V351.9h-1.5zM252.0 331.1h1.5V351.9h-1.5zM255.0 331.4h1.5V351.9h-1.5zM258.0 331.7h1.5V351.9h-1.5zM261.0 332.0h1.5V351.9h-1.5zM263.9 332.3h1.5V351.9h-1.5zM266.9 332.6h1.5V351.9h-1.5zM269.9 332.9h1.5V351.9h-1.5zM272.8 333.2h1.5V351.9h-1.5zM275.8 333.5h1.5V351.9h-1.5zM278.8 333.8h1.5V351.9h-1.5zM281.8 334.1h1.5V351.9h-1.5zM284.7 334.2h1.5V351.9h-1.5zM287.7 334.2h1.5V351.9h-1.5zM290.7 334.2h1.5V351.9h-1.5zM293.6 334.2h1.5V351.9h-1.5zM296.6 334.2h1.5V351.9h-1.5zM299.6 334.2h1.5V351.9h-1.5zM302.5 334.2h1.5V351.9h-1.5zM305.5 334.2h1.5V351.9h-1.5zM308.5 334.2h1.5V351.9h-1.5zM311.5 334.2h1.5V351.9h-1.5zM314.4 334.2h1.5V351.9h-1.5zM317.4 334.1h1.5V351.9h-1.5zM320.4 333.7h1.5V351.9h-1.5zM323.3 333.1h1.5V351.9h-1.5zM326.3 332.5h1.5V351.9h-1.5zM329.3 331.4h1.5V351.9h-1.5zM332.3 330.2h1.5V351.9h-1.5zM335.2 328.7h1.5V351.9h-1.5zM338.2 326.6h1.5V351.9h-1.5zM341.2 324.6h1.5V351.9h-1.5zM344.1 323.0h1.5V351.9h-1.5zM347.1 321.5h1.5V351.9h-1.5zM350.1 319.9h1.5V351.9h-1.5zM353.1 318.1h1.5V351.9h-1.5zM356.0 316.3h1.5V351.9h-1.5zM359.0 315.1h1.5V351.9h-1.5zM362.0 314.0h1.5V351.9h-1.5zM364.9 314.2h1.5V351.9h-1.5zM367.9 315.0h1.5V351.9h-1.5zM370.9 316.0h1.5V351.9h-1.5zM373.9 317.1h1.5V351.9h-1.5zM376.8 319.0h1.5V351.9h-1.5zM379.8 321.3h1.5V351.9h-1.5zM382.8 324.0h1.5V351.9h-1.5zM385.7 327.2h1.5V351.9h-1.5zM388.7 331.1h1.5V351.9h-1.5zM391.7 335.8h1.5V351.9h-1.5zM394.6 340.5h1.5V351.9h-1.5zM397.6 344.2h1.5V351.9h-1.5zM400.6 347.6h1.5V351.9h-1.5zM403.6 349.1h1.5V351.9h-1.5zM406.5 350.3h1.5V351.9h-1.5zM409.5 349.6h1.5V351.9h-1.5zM412.5 348.7h1.5V351.9h-1.5zM415.4 347.2h1.5V351.9h-1.5zM418.4 345.6h1.5V351.9h-1.5zM421.4 342.6h1.5V351.9h-1.5zM424.4 339.6h1.5V351.9h-1.5zM427.3 335.9h1.5V351.9h-1.5zM430.3 332.3h1.5V351.9h-1.5zM433.3 330.0h1.5V351.9h-1.5zM436.2 327.8h1.5V351.9h-1.5zM439.2 324.8h1.5V351.9h-1.5zM442.2 322.3h1.5V351.9h-1.5zM445.2 320.8h1.5V351.9h-1.5zM448.1 321.1h1.5V351.9h-1.5zM451.1 323.3h1.5V351.9h-1.5zM454.1 325.8h1.5V351.9h-1.5zM457.0 328.4h1.5V351.9h-1.5zM460.0 329.7h1.5V351.9h-1.5zM463.0 330.7h1.5V351.9h-1.5zM466.0 331.3h1.5V351.9h-1.5zM468.9 331.9h1.5V351.9h-1.5zM471.9 331.5h1.5V351.9h-1.5zM474.9 330.9h1.5V351.9h-1.5zM477.8 330.5h1.5V351.9h-1.5zM480.8 330.2h1.5V351.9h-1.5zM483.8 329.8h1.5V351.9h-1.5zM486.8 329.2h1.5V351.9h-1.5zM489.7 328.9h1.5V351.9h-1.5zM492.7 330.7h1.5V351.9h-1.5zM495.7 332.8h1.5V351.9h-1.5zM498.6 335.4h1.5V351.9h-1.5zM501.6 338.0h1.5V351.9h-1.5zM504.6 340.6h1.5V351.9h-1.5zM507.5 342.7h1.5V351.9h-1.5zM510.5 344.5h1.5V351.9h-1.5zM513.5 345.4h1.5V351.9h-1.5zM516.5 346.0h1.5V351.9h-1.5zM519.4 345.6h1.5V351.9h-1.5zM522.4 344.7h1.5V351.9h-1.5zM525.4 342.4h1.5V351.9h-1.5zM528.3 340.2h1.5V351.9h-1.5zM531.3 338.0h1.5V351.9h-1.5zM534.3 336.5h1.5V351.9h-1.5zM537.3 335.4h1.5V351.9h-1.5zM540.2 335.7h1.5V351.9h-1.5zM543.2 336.3h1.5V351.9h-1.5zM546.2 338.5h1.5V351.9h-1.5zM549.1 340.6h1.5V351.9h-1.5zM552.1 342.2h1.5V351.9h-1.5zM555.1 344.0h1.5V351.9h-1.5zM558.1 345.1h1.5V351.9h-1.5zM561.0 345.7h1.5V351.9h-1.5zM564.0 345.6h1.5V351.9h-1.5zM567.0 344.7h1.5V351.9h-1.5zM569.9 343.8h1.5V351.9h-1.5zM572.9 343.0h1.5V351.9h-1.5zM575.9 342.1h1.5V351.9h-1.5zM578.9 339.1h1.5V351.9h-1.5zM581.8 336.2h1.5V351.9h-1.5zM584.8 333.4h1.5V351.9h-1.5zM587.8 330.7h1.5V351.9h-1.5zM590.7 328.4h1.5V351.9h-1.5zM593.7 326.8h1.5V351.9h-1.5zM596.7 327.3h1.5V351.9h-1.5zM599.6 328.5h1.5V351.9h-1.5zM602.6 330.0h1.5V351.9h-1.5zM605.6 331.2h1.5V351.9h-1.5zM608.6 332.4h1.5V351.9h-1.5zM611.5 333.1h1.5V351.9h-1.5zM614.5 333.7h1.5V351.9h-1.5zM617.5 334.5h1.5V351.9h-1.5zM620.4 335.4h1.5V351.9h-1.5zM623.4 336.3h1.5V351.9h-1.5zM626.4 337.5h1.5V351.9h-1.5zM629.4 338.7h1.5V351.9h-1.5zM632.3 339.0h1.5V351.9h-1.5zM635.3 339.3h1.5V351.9h-1.5zM638.3 339.6h1.5V351.9h-1.5zM641.2 339.9h1.5V351.9h-1.5zM644.2 340.0h1.5V351.9h-1.5zM647.2 340.0h1.5V351.9h-1.5zM650.2 339.9h1.5V351.9h-1.5zM653.1 339.3h1.5V351.9h-1.5zM656.1 338.7h1.5V351.9h-1.5zM659.1 338.1h1.5V351.9h-1.5zM662.0 337.5h1.5V351.9h-1.5zM665.0 337.6h1.5V351.9h-1.5zM668.0 337.9h1.5V351.9h-1.5zM671.0 338.2h1.5V351.9h-1.5zM673.9 338.5h1.5V351.9h-1.5zM676.9 338.6h1.5V351.9h-1.5zM679.9 338.3h1.5V351.9h-1.5zM682.8 338.0h1.5V351.9h-1.5zM685.8 337.1h1.5V351.9h-1.5zM688.8 336.2h1.5V351.9h-1.5zM691.7 336.7h1.5V351.9h-1.5zM694.7 337.6h1.5V351.9h-1.5zM697.7 338.1h1.5V351.9h-1.5zM700.7 337.2h1.5V351.9h-1.5zM703.6 335.4h1.5V351.9h-1.5zM706.6 333.7h1.5V351.9h-1.5zM709.6 332.2h1.5V351.9h-1.5zM712.5 332.4h1.5V351.9h-1.5zM715.5 334.6h1.5V351.9h-1.5zM718.5 336.8h1.5V351.9h-1.5zM721.5 339.1h1.5V351.9h-1.5zM724.4 341.3h1.5V351.9h-1.5zM727.4 343.5h1.5V351.9h-1.5zM730.4 357.3h1.5V358.6h-1.5zM730.4 345.4h1.5V351.9h-1.5zM733.3 356.2h1.5V360.2h-1.5zM733.3 346.9h1.5V351.9h-1.5zM736.3 353.4h1.5V363.7h-1.5zM736.3 348.3h1.5V351.9h-1.5zM739.3 351.9h1.5V370.5h-1.5zM739.3 349.4h1.5V351.9h-1.5zM742.3 351.9h1.5V377.9h-1.5zM742.3 350.4h1.5V351.9h-1.5zM745.2 351.9h1.5V387.1h-1.5zM745.2 351.1h1.5V351.9h-1.5zM748.2 351.9h1.5V396.7h-1.5zM751.2 351.9h1.5V402.9h-1.5zM754.1 351.9h1.5V407.3h-1.5zM757.1 351.9h1.5V411.9h-1.5zM760.1 352.7h1.5V417.3h-1.5zM763.1 354.0h1.5V423.8h-1.5zM766.0 356.3h1.5V426.0h-1.5zM769.0 358.5h1.5V424.7h-1.5zM772.0 360.8h1.5V422.2h-1.5zM774.9 363.2h1.5V419.4h-1.5zM777.9 365.0h1.5V416.4h-1.5zM780.9 366.5h1.5V413.4h-1.5zM783.9 367.5h1.5V410.4h-1.5zM786.8 367.8h1.5V403.2h-1.5zM789.8 367.9h1.5V395.7h-1.5zM792.8 366.7h1.5V382.1h-1.5zM792.8 350.1h1.5V351.9h-1.5zM795.7 365.5h1.5V372.2h-1.5zM795.7 349.6h1.5V351.9h-1.5zM798.7 364.6h1.5V368.7h-1.5zM798.7 349.0h1.5V351.9h-1.5zM801.7 363.7h1.5V366.3h-1.5zM801.7 347.7h1.5V351.9h-1.5zM804.6 362.4h1.5V365.2h-1.5zM804.6 345.9h1.5V351.9h-1.5zM807.6 344.3h1.5V351.9h-1.5zM810.6 343.1h1.5V351.9h-1.5zM813.6 342.0h1.5V351.9h-1.5zM816.5 341.7h1.5V351.9h-1.5zM819.5 341.4h1.5V351.9h-1.5zM822.5 343.2h1.5V351.9h-1.5zM825.4 345.4h1.5V351.9h-1.5zM828.4 348.0h1.5V351.9h-1.5zM831.4 350.2h1.5V351.9h-1.5zM834.4 351.0h1.5V351.9h-1.5zM837.3 351.5h1.5V351.9h-1.5zM843.3 353.4h1.5V354.9h-1.5zM846.2 353.4h1.5V355.8h-1.5zM849.2 353.4h1.5V356.7h-1.5zM852.2 353.5h1.5V357.5h-1.5zM855.2 353.6h1.5V358.4h-1.5zM858.1 354.0h1.5V359.1h-1.5zM861.1 355.3h1.5V359.7h-1.5zM864.1 356.7h1.5V360.6h-1.5zM867.0 358.2h1.5V361.8h-1.5zM870.0 359.4h1.5V363.0h-1.5zM873.0 359.7h1.5V364.1h-1.5zM876.0 360.0h1.5V365.3h-1.5zM878.9 360.2h1.5V366.2h-1.5zM881.9 360.3h1.5V367.1h-1.5zM884.9 360.5h1.5V367.8h-1.5zM887.8 360.6h1.5V368.4h-1.5zM890.8 360.9h1.5V369.4h-1.5zM893.8 361.2h1.5V370.9h-1.5zM896.7 361.4h1.5V372.3h-1.5zM899.7 361.7h1.5V373.5h-1.5zM902.7 362.0h1.5V374.7h-1.5zM905.7 362.6h1.5V375.0h-1.5zM908.6 363.2h1.5V373.6h-1.5zM911.6 363.5h1.5V371.1h-1.5zM914.6 362.9h1.5V371.6h-1.5zM917.5 365.0h1.5V367.1h-1.5zM923.5 347.7h1.5V351.9h-1.5zM926.5 345.1h1.5V351.9h-1.5zM929.4 343.5h1.5V351.9h-1.5zM932.4 339.5h1.5V351.9h-1.5zM935.4 335.7h1.5V351.9h-1.5zM938.3 332.7h1.5V351.9h-1.5zM941.3 329.1h1.5V351.9h-1.5zM944.3 327.4h1.5V351.9h-1.5zM947.3 325.6h1.5V351.9h-1.5zM950.2 325.1h1.5V351.9h-1.5zM953.2 324.8h1.5V351.9h-1.5zM956.2 324.7h1.5V351.9h-1.5zM959.1 324.7h1.5V351.9h-1.5zM962.1 324.4h1.5V351.9h-1.5zM965.1 324.1h1.5V351.9h-1.5zM968.1 323.7h1.5V351.9h-1.5zM971.0 323.4h1.5V351.9h-1.5zM974.0 323.4h1.5V351.9h-1.5zM977.0 323.4h1.5V351.9h-1.5zM979.9 323.7h1.5V351.9h-1.5zM982.9 324.0h1.5V351.9h-1.5zM985.9 324.4h1.5V351.9h-1.5zM988.8 324.7h1.5V351.9h-1.5zM991.8 324.7h1.5V351.9h-1.5zM994.8 324.7h1.5V351.9h-1.5zM997.8 325.3h1.5V351.9h-1.5zM1000.7 326.0h1.5V351.9h-1.5zM1003.7 326.0h1.5V351.9h-1.5zM1006.7 326.0h1.5V351.9h-1.5zM1009.6 326.9h1.5V351.9h-1.5zM1012.6 327.9h1.5V351.9h-1.5zM1015.6 329.9h1.5V351.9h-1.5zM1018.6 332.3h1.5V351.9h-1.5zM1021.5 334.0h1.5V351.9h-1.5zM1024.5 335.7h1.5V351.9h-1.5zM1027.5 337.9h1.5V351.9h-1.5zM1030.4 339.7h1.5V351.9h-1.5zM1033.4 341.2h1.5V351.9h-1.5zM1036.4 342.1h1.5V351.9h-1.5zM1039.4 341.5h1.5V351.9h-1.5zM1042.3 343.3h1.5V351.9h-1.5zM1045.3 345.7h1.5V351.9h-1.5zM1048.3 343.6h1.5V351.9h-1.5zM1051.2 341.4h1.5V351.9h-1.5zM1054.2 340.2h1.5V351.9h-1.5zM1057.2 339.4h1.5V351.9h-1.5zM1060.2 340.6h1.5V351.9h-1.5zM1063.1 342.7h1.5V351.9h-1.5zM1066.1 343.3h1.5V351.9h-1.5zM1069.1 343.4h1.5V351.9h-1.5zM1072.0 343.4h1.5V351.9h-1.5zM1075.0 343.7h1.5V351.9h-1.5zM1078.0 344.1h1.5V351.9h-1.5zM1081.0 344.8h1.5V351.9h-1.5zM1083.9 345.4h1.5V351.9h-1.5zM1086.9 345.0h1.5V351.9h-1.5zM1089.9 345.2h1.5V351.9h-1.5zM1092.8 346.1h1.5V351.9h-1.5zM1095.8 346.1h1.5V351.9h-1.5zM1098.8 346.2h1.5V351.9h-1.5zM1101.7 346.5h1.5V351.9h-1.5zM1104.7 346.7h1.5V351.9h-1.5zM1107.7 346.7h1.5V351.9h-1.5zM1110.7 346.7h1.5V351.9h-1.5zM1113.6 346.5h1.5V351.9h-1.5zM1116.6 346.2h1.5V351.9h-1.5zM1119.6 346.9h1.5V351.9h-1.5zM1122.5 348.0h1.5V351.9h-1.5zM1125.5 349.4h1.5V351.9h-1.5zM1128.5 350.8h1.5V351.9h-1.5zM1131.5 351.4h1.5V351.9h-1.5zM1134.4 363.9h1.5V365.6h-1.5zM1137.4 364.6h1.5V370.9h-1.5zM1140.4 365.4h1.5V373.0h-1.5zM1143.3 365.7h1.5V375.1h-1.5zM1146.3 366.0h1.5V377.0h-1.5zM1149.3 366.0h1.5V379.7h-1.5zM1152.3 365.9h1.5V383.9h-1.5zM1155.2 365.5h1.5V386.4h-1.5zM1158.2 364.1h1.5V388.7h-1.5zM1161.2 361.9h1.5V390.5h-1.5zM1164.1 358.9h1.5V389.5h-1.5zM1167.1 355.9h1.5V379.6h-1.5zM1170.1 352.7h1.5V365.9h-1.5zM1170.1 342.6h1.5V351.4h-1.5zM1173.1 351.9h1.5V361.3h-1.5zM1173.1 336.7h1.5V346.6h-1.5zM1176.0 351.9h1.5V357.2h-1.5zM1176.0 330.8h1.5V343.1h-1.5zM1179.0 351.9h1.5V357.0h-1.5zM1179.0 327.1h1.5V340.1h-1.5zM1182.0 351.9h1.5V357.3h-1.5zM1182.0 323.8h1.5V338.9h-1.5zM1184.9 351.9h1.5V357.9h-1.5zM1184.9 317.1h1.5V335.7h-1.5zM1187.9 351.9h1.5V353.3h-1.5zM1187.9 309.9h1.5V333.1h-1.5zM1190.9 303.7h1.5V333.3h-1.5zM1193.8 302.0h1.5V334.2h-1.5zM1196.8 303.4h1.5V335.1h-1.5zM1199.8 307.9h1.5V336.8h-1.5zM1202.8 316.5h1.5V337.2h-1.5zM1205.7 319.9h1.5V337.4h-1.5zM1208.7 322.4h1.5V337.8h-1.5zM1211.7 326.1h1.5V337.8h-1.5zM1214.6 324.0h1.5V336.8h-1.5zM1217.6 313.9h1.5V335.8h-1.5zM1220.6 310.7h1.5V334.7h-1.5zM1223.6 311.0h1.5V333.6h-1.5zM1226.5 315.2h1.5V329.4h-1.5zM1229.5 313.0h1.5V326.5h-1.5zM1232.5 311.1h1.5V323.0h-1.5zM1235.4 310.2h1.5V319.4h-1.5zM1238.4 309.4h1.5V316.7h-1.5zM1241.4 310.3h1.5V312.7h-1.5zM1247.3 351.9h1.5V353.4h-1.5zM1250.3 351.9h1.5V358.0h-1.5zM1253.3 351.9h1.5V360.9h-1.5zM1256.2 351.9h1.5V363.6h-1.5zM1259.2 351.9h1.5V365.9h-1.5zM1262.2 351.9h1.5V368.3h-1.5zM1265.2 351.9h1.5V368.7h-1.5zM1268.1 351.9h1.5V370.5h-1.5zM1271.1 351.9h1.5V371.1h-1.5zM1274.1 351.9h1.5V370.7h-1.5zM1277.0 351.9h1.5V370.2h-1.5zM1280.0 351.9h1.5V370.0h-1.5zM1283.0 351.9h1.5V370.5h-1.5zM1285.9 351.9h1.5V370.6h-1.5zM1288.9 351.9h1.5V369.6h-1.5zM1291.9 351.9h1.5V368.7h-1.5zM1294.9 351.9h1.5V368.0h-1.5zM1297.8 351.9h1.5V366.5h-1.5zM1300.8 351.9h1.5V364.6h-1.5zM1303.8 351.9h1.5V362.4h-1.5zM1306.7 351.9h1.5V360.2h-1.5zM1309.7 351.9h1.5V358.6h-1.5zM1312.7 351.9h1.5V357.1h-1.5zM1315.7 351.9h1.5V355.6h-1.5zM1318.6 351.9h1.5V354.1h-1.5zM1321.6 351.9h1.5V352.9h-1.5zM1324.6 351.9h1.5V352.3h-1.5z"/>
<path fill="#5098ff" d="M41.1 185.7h1.5V254.5h-1.5zM44.1 178.8h1.5V252.4h-1.5zM47.0 172.0h1.5V250.4h-1.5zM50.0 166.1h1.5V248.3h-1.5zM53.0 161.3h1.5V247.5h-1.5zM56.0 156.8h1.5V247.2h-1.5zM58.9 152.4h1.5V246.9h-1.5zM61.9 148.0h1.5V246.4h-1.5zM64.9 144.4h1.5V244.2h-1.5zM67.8 140.9h1.5V242.0h-1.5zM70.8 137.3h1.5V239.9h-1.5zM73.8 134.5h1.5V238.4h-1.5zM76.8 132.6h1.5V236.9h-1.5zM79.7 130.7h1.5V235.7h-1.5zM82.7 130.4h1.5V235.3h-1.5zM85.7 131.5h1.5V234.9h-1.5zM88.6 132.6h1.5V234.9h-1.5zM91.6 135.3h1.5V235.7h-1.5zM94.6 139.0h1.5V236.4h-1.5zM97.5 142.7h1.5V237.9h-1.5zM100.5 147.9h1.5V240.5h-1.5zM103.5 153.8h1.5V243.1h-1.5zM106.5 159.8h1.5V244.9h-1.5zM109.4 165.7h1.5V245.9h-1.5zM112.4 171.0h1.5V247.5h-1.5zM115.4 174.6h1.5V250.5h-1.5zM118.3 182.7h1.5V253.4h-1.5zM121.3 192.2h1.5V255.8h-1.5zM124.3 202.6h1.5V257.3h-1.5zM127.3 210.7h1.5V258.8h-1.5zM130.2 218.6h1.5V260.3h-1.5zM133.2 225.8h1.5V262.0h-1.5zM136.2 232.7h1.5V263.9h-1.5zM139.1 239.9h1.5V265.8h-1.5zM142.1 247.1h1.5V270.2h-1.5zM145.1 251.8h1.5V275.1h-1.5zM148.1 255.6h1.5V281.4h-1.5zM157.0 351.9h1.5V355.3h-1.5zM159.9 351.9h1.5V358.5h-1.5zM162.9 351.9h1.5V361.7h-1.5zM165.9 351.9h1.5V365.0h-1.5zM168.9 351.9h1.5V367.9h-1.5zM171.8 351.9h1.5V370.9h-1.5zM174.8 351.9h1.5V373.9h-1.5zM177.8 351.9h1.5V377.2h-1.5zM180.7 351.9h1.5V380.5h-1.5zM183.7 351.9h1.5V383.6h-1.5zM186.7 351.9h1.5V386.6h-1.5zM189.7 351.9h1.5V389.6h-1.5zM192.6 351.9h1.5V391.9h-1.5zM195.6 351.9h1.5V393.6h-1.5zM198.6 351.9h1.5V395.4h-1.5zM201.5 351.9h1.5V396.7h-1.5zM204.5 351.9h1.5V397.9h-1.5zM207.5 351.9h1.5V399.1h-1.5zM210.4 351.9h1.5V400.1h-1.5zM213.4 351.9h1.5V401.2h-1.5zM216.4 351.9h1.5V402.0h-1.5zM219.4 351.9h1.5V402.0h-1.5zM222.3 351.9h1.5V402.0h-1.5zM225.3 351.9h1.5V400.0h-1.5zM228.3 351.9h1.5V398.1h-1.5zM231.2 353.3h1.5V397.2h-1.5zM234.2 353.7h1.5V396.3h-1.5zM237.2 354.5h1.5V395.3h-1.5zM240.2 355.2h1.5V394.0h-1.5zM243.1 355.8h1.5V392.7h-1.5zM246.1 355.8h1.5V391.4h-1.5zM249.1 355.8h1.5V390.1h-1.5zM252.0 355.8h1.5V388.3h-1.5zM255.0 355.8h1.5V386.5h-1.5zM258.0 355.8h1.5V384.8h-1.5zM261.0 355.4h1.5V383.0h-1.5zM263.9 354.9h1.5V381.2h-1.5zM266.9 354.5h1.5V379.4h-1.5zM269.9 354.1h1.5V377.6h-1.5zM272.8 353.9h1.5V375.8h-1.5zM275.8 353.8h1.5V374.1h-1.5zM278.8 353.6h1.5V372.3h-1.5zM281.8 353.4h1.5V370.5h-1.5zM284.7 353.8h1.5V369.4h-1.5zM287.7 354.4h1.5V368.5h-1.5zM290.7 354.9h1.5V367.6h-1.5zM293.6 355.5h1.5V368.9h-1.5zM296.6 356.1h1.5V370.3h-1.5zM299.6 356.7h1.5V371.8h-1.5zM302.5 357.0h1.5V372.7h-1.5zM305.5 357.3h1.5V373.5h-1.5zM308.5 357.6h1.5V374.1h-1.5zM311.5 357.9h1.5V373.8h-1.5zM314.4 358.2h1.5V373.5h-1.5zM317.4 358.5h1.5V373.0h-1.5zM320.4 358.8h1.5V372.4h-1.5zM323.3 359.1h1.5V371.8h-1.5zM326.3 359.6h1.5V371.5h-1.5zM329.3 360.2h1.5V371.2h-1.5zM332.3 360.8h1.5V370.9h-1.5zM335.2 360.3h1.5V365.0h-1.5zM335.2 327.7h1.5V328.7h-1.5zM338.2 325.1h1.5V326.6h-1.5zM341.2 321.8h1.5V324.6h-1.5zM344.1 318.5h1.5V323.0h-1.5zM347.1 315.2h1.5V321.5h-1.5zM350.1 312.0h1.5V319.9h-1.5zM353.1 308.7h1.5V318.1h-1.5zM356.0 305.4h1.5V316.3h-1.5zM359.0 303.3h1.5V315.1h-1.5zM362.0 301.4h1.5V314.0h-1.5zM364.9 301.0h1.5V314.2h-1.5zM367.9 301.0h1.5V315.0h-1.5zM370.9 301.2h1.5V316.0h-1.5zM373.9 301.6h1.5V317.1h-1.5zM376.8 302.5h1.5V319.0h-1.5zM379.8 303.6h1.5V321.3h-1.5zM382.8 305.3h1.5V324.0h-1.5zM385.7 307.5h1.5V327.2h-1.5zM388.7 310.5h1.5V331.1h-1.5zM391.7 313.8h1.5V335.8h-1.5zM394.6 317.2h1.5V340.5h-1.5zM397.6 320.1h1.5V344.2h-1.5zM400.6 322.8h1.5V347.6h-1.5zM403.6 324.0h1.5V349.1h-1.5zM406.5 324.9h1.5V350.3h-1.5zM409.5 324.5h1.5V349.6h-1.5zM412.5 324.0h1.5V348.7h-1.5zM415.4 322.9h1.5V347.2h-1.5zM418.4 321.8h1.5V345.6h-1.5zM421.4 320.3h1.5V342.6h-1.5zM424.4 318.7h1.5V339.6h-1.5zM427.3 315.7h1.5V335.9h-1.5zM430.3 312.8h1.5V332.3h-1.5zM433.3 310.6h1.5V330.0h-1.5zM436.2 308.2h1.5V327.8h-1.5zM439.2 303.0h1.5V324.8h-1.5zM442.2 302.6h1.5V322.3h-1.5zM445.2 302.7h1.5V320.8h-1.5zM448.1 303.4h1.5V321.1h-1.5zM451.1 304.6h1.5V323.3h-1.5zM454.1 306.1h1.5V325.8h-1.5zM457.0 307.0h1.5V328.4h-1.5zM460.0 307.7h1.5V329.7h-1.5zM463.0 306.6h1.5V330.7h-1.5zM466.0 305.2h1.5V331.3h-1.5zM468.9 302.2h1.5V331.9h-1.5zM471.9 299.5h1.5V331.5h-1.5zM474.9 297.3h1.5V330.9h-1.5zM477.8 295.1h1.5V330.5h-1.5zM480.8 292.8h1.5V330.2h-1.5zM483.8 290.6h1.5V329.8h-1.5zM486.8 288.4h1.5V329.2h-1.5zM489.7 286.4h1.5V328.9h-1.5zM492.7 287.7h1.5V330.7h-1.5zM495.7 290.6h1.5V332.8h-1.5zM498.6 293.6h1.5V335.4h-1.5zM501.6 296.8h1.5V338.0h-1.5zM504.6 300.1h1.5V340.6h-1.5zM507.5 303.4h1.5V342.7h-1.5zM510.5 306.8h1.5V344.5h-1.5zM513.5 309.8h1.5V345.4h-1.5zM516.5 312.8h1.5V346.0h-1.5zM519.4 315.7h1.5V345.6h-1.5zM522.4 317.9h1.5V344.7h-1.5zM525.4 318.8h1.5V342.4h-1.5zM528.3 318.0h1.5V340.2h-1.5zM531.3 316.4h1.5V338.0h-1.5zM534.3 314.1h1.5V336.5h-1.5zM537.3 313.1h1.5V335.4h-1.5zM540.2 312.5h1.5V335.7h-1.5zM543.2 313.9h1.5V336.3h-1.5zM546.2 315.6h1.5V338.5h-1.5zM549.1 317.8h1.5V340.6h-1.5zM552.1 320.1h1.5V342.2h-1.5zM555.1 324.0h1.5V344.0h-1.5zM558.1 329.5h1.5V345.1h-1.5zM561.0 327.3h1.5V345.7h-1.5zM564.0 324.7h1.5V345.6h-1.5zM567.0 321.7h1.5V344.7h-1.5zM569.9 318.9h1.5V343.8h-1.5zM572.9 316.5h1.5V343.0h-1.5zM575.9 314.1h1.5V342.1h-1.5zM578.9 310.5h1.5V339.1h-1.5zM581.8 306.7h1.5V336.2h-1.5zM584.8 302.7h1.5V333.4h-1.5zM587.8 298.8h1.5V330.7h-1.5zM590.7 295.8h1.5V328.4h-1.5zM593.7 294.0h1.5V326.8h-1.5zM596.7 293.2h1.5V327.3h-1.5zM599.6 293.0h1.5V328.5h-1.5zM602.6 292.7h1.5V330.0h-1.5zM605.6 292.4h1.5V331.2h-1.5zM608.6 292.1h1.5V332.4h-1.5zM611.5 292.1h1.5V333.1h-1.5zM614.5 292.1h1.5V333.7h-1.5zM617.5 292.2h1.5V334.5h-1.5zM620.4 292.5h1.5V335.4h-1.5zM623.4 292.9h1.5V336.3h-1.5zM626.4 293.5h1.5V337.5h-1.5zM629.4 294.1h1.5V338.7h-1.5zM632.3 295.0h1.5V339.0h-1.5zM635.3 295.8h1.5V339.3h-1.5zM638.3 297.0h1.5V339.6h-1.5zM641.2 298.1h1.5V339.9h-1.5zM644.2 299.5h1.5V340.0h-1.5zM647.2 301.0h1.5V340.0h-1.5zM650.2 302.2h1.5V339.9h-1.5zM653.1 303.3h1.5V339.3h-1.5zM656.1 305.4h1.5V338.7h-1.5zM659.1 307.7h1.5V338.1h-1.5zM662.0 310.7h1.5V337.5h-1.5zM665.0 313.7h1.5V337.6h-1.5zM668.0 316.7h1.5V337.9h-1.5zM671.0 319.2h1.5V338.2h-1.5zM673.9 321.5h1.5V338.5h-1.5zM676.9 322.9h1.5V338.6h-1.5zM679.9 324.0h1.5V338.3h-1.5zM682.8 324.4h1.5V338.0h-1.5zM685.8 324.8h1.5V337.1h-1.5zM688.8 324.8h1.5V336.2h-1.5zM691.7 324.8h1.5V336.7h-1.5zM694.7 324.8h1.5V337.6h-1.5zM697.7 324.7h1.5V338.1h-1.5zM700.7 324.6h1.5V337.2h-1.5zM703.6 324.6h1.5V335.4h-1.5zM706.6 324.5h1.5V333.7h-1.5zM709.6 324.3h1.5V332.2h-1.5zM712.5 324.0h1.5V332.4h-1.5zM715.5 324.0h1.5V334.6h-1.5zM718.5 324.2h1.5V336.8h-1.5zM721.5 324.5h1.5V339.1h-1.5zM724.4 325.7h1.5V341.3h-1.5zM727.4 328.3h1.5V343.5h-1.5zM730.4 331.1h1.5V345.4h-1.5zM733.3 334.0h1.5V346.9h-1.5zM736.3 337.0h1.5V348.3h-1.5zM739.3 340.0h1.5V349.4h-1.5zM742.3 377.9h1.5V383.5h-1.5zM742.3 342.7h1.5V350.4h-1.5zM745.2 344.9h1.5V351.1h-1.5zM748.2 347.0h1.5V351.8h-1.5zM751.2 402.9h1.5V403.3h-1.5zM751.2 349.0h1.5V351.9h-1.5zM754.1 407.3h1.5V411.7h-1.5zM754.1 351.2h1.5V351.9h-1.5zM757.1 411.9h1.5V421.1h-1.5zM760.1 417.3h1.5V430.4h-1.5zM763.1 423.8h1.5V439.3h-1.5zM766.0 426.0h1.5V448.2h-1.5zM769.0 424.7h1.5V453.8h-1.5zM772.0 422.2h1.5V456.9h-1.5zM774.9 419.4h1.5V458.1h-1.5zM777.9 416.4h1.5V458.1h-1.5zM780.9 413.4h1.5V455.5h-1.5zM783.9 410.4h1.5V452.5h-1.5zM786.8 403.2h1.5V446.7h-1.5zM789.8 395.7h1.5V440.8h-1.5zM792.8 382.1h1.5V433.3h-1.5zM795.7 372.2h1.5V422.6h-1.5zM798.7 368.7h1.5V414.5h-1.5zM801.7 366.3h1.5V411.0h-1.5zM804.6 365.2h1.5V408.6h-1.5zM807.6 360.9h1.5V407.1h-1.5zM810.6 359.4h1.5V405.6h-1.5zM813.6 358.0h1.5V404.7h-1.5zM816.5 356.6h1.5V403.8h-1.5zM819.5 355.8h1.5V402.9h-1.5zM822.5 355.0h1.5V402.2h-1.5zM825.4 354.6h1.5V401.6h-1.5zM828.4 354.2h1.5V401.0h-1.5zM831.4 353.8h1.5V401.0h-1.5zM834.4 353.5h1.5V401.5h-1.5zM837.3 353.4h1.5V402.0h-1.5zM840.3 353.4h1.5V402.5h-1.5zM843.3 354.9h1.5V403.1h-1.5zM846.2 355.8h1.5V403.9h-1.5zM849.2 356.7h1.5V404.6h-1.5zM852.2 357.5h1.5V405.4h-1.5zM855.2 358.4h1.5V406.1h-1.5zM858.1 359.1h1.5V406.8h-1.5zM861.1 359.7h1.5V407.6h-1.5zM864.1 360.6h1.5V408.3h-1.5zM867.0 361.8h1.5V409.4h-1.5zM870.0 363.0h1.5V410.5h-1.5zM873.0 364.1h1.5V411.6h-1.5zM876.0 365.3h1.5V412.7h-1.5zM878.9 366.2h1.5V413.9h-1.5zM881.9 367.1h1.5V414.4h-1.5zM884.9 367.8h1.5V414.8h-1.5zM887.8 368.4h1.5V415.1h-1.5zM890.8 369.4h1.5V415.4h-1.5zM893.8 370.9h1.5V415.7h-1.5zM896.7 372.3h1.5V416.0h-1.5zM899.7 373.5h1.5V416.3h-1.5zM902.7 374.7h1.5V416.6h-1.5zM905.7 375.0h1.5V416.9h-1.5zM908.6 373.6h1.5V416.2h-1.5zM911.6 371.1h1.5V415.1h-1.5zM914.6 371.6h1.5V413.6h-1.5zM917.5 367.1h1.5V410.6h-1.5zM920.5 365.9h1.5V408.0h-1.5zM923.5 366.8h1.5V406.2h-1.5zM926.5 367.5h1.5V404.5h-1.5zM929.4 368.1h1.5V403.4h-1.5zM932.4 368.7h1.5V401.9h-1.5zM935.4 369.2h1.5V400.2h-1.5zM938.3 369.6h1.5V399.1h-1.5zM941.3 369.3h1.5V397.5h-1.5zM944.3 369.0h1.5V395.7h-1.5zM947.3 368.7h1.5V394.7h-1.5zM950.2 368.4h1.5V393.0h-1.5zM953.2 367.7h1.5V391.2h-1.5zM956.2 366.8h1.5V389.7h-1.5zM959.1 366.1h1.5V387.5h-1.5zM962.1 365.5h1.5V386.5h-1.5zM965.1 364.9h1.5V384.8h-1.5zM968.1 364.3h1.5V383.6h-1.5zM971.0 363.7h1.5V382.4h-1.5zM974.0 363.4h1.5V381.8h-1.5zM977.0 363.1h1.5V381.2h-1.5zM979.9 363.0h1.5V380.8h-1.5zM982.9 363.0h1.5V380.5h-1.5zM985.9 363.1h1.5V380.1h-1.5zM988.8 363.2h1.5V379.5h-1.5zM991.8 363.4h1.5V379.0h-1.5zM994.8 363.5h1.5V378.7h-1.5zM997.8 363.7h1.5V378.4h-1.5zM1000.7 363.5h1.5V378.1h-1.5zM1003.7 363.4h1.5V377.8h-1.5zM1006.7 363.2h1.5V377.5h-1.5zM1009.6 363.1h1.5V377.2h-1.5zM1012.6 363.0h1.5V377.0h-1.5zM1015.6 363.0h1.5V377.0h-1.5zM1018.6 363.0h1.5V377.0h-1.5zM1021.5 363.0h1.5V377.0h-1.5zM1024.5 363.0h1.5V377.0h-1.5zM1027.5 363.2h1.5V376.7h-1.5zM1030.4 363.3h1.5V376.4h-1.5zM1033.4 363.5h1.5V376.4h-1.5zM1036.4 363.6h1.5V376.4h-1.5zM1039.4 364.0h1.5V376.2h-1.5zM1042.3 364.6h1.5V375.9h-1.5zM1045.3 365.1h1.5V375.8h-1.5zM1048.3 365.4h1.5V376.1h-1.5zM1051.2 365.7h1.5V376.4h-1.5zM1054.2 366.0h1.5V376.1h-1.5zM1057.2 366.3h1.5V375.8h-1.5zM1060.2 366.1h1.5V374.8h-1.5zM1063.1 365.8h1.5V373.6h-1.5zM1066.1 365.5h1.5V372.4h-1.5zM1069.1 365.2h1.5V371.2h-1.5zM1072.0 364.7h1.5V370.1h-1.5zM1075.0 363.5h1.5V369.2h-1.5zM1078.0 362.4h1.5V368.3h-1.5zM1081.0 362.6h1.5V367.4h-1.5zM1083.9 362.8h1.5V366.5h-1.5zM1083.9 340.1h1.5V345.4h-1.5zM1086.9 359.9h1.5V365.0h-1.5zM1086.9 339.8h1.5V345.0h-1.5zM1089.9 359.7h1.5V363.6h-1.5zM1089.9 339.5h1.5V345.2h-1.5zM1092.8 338.3h1.5V346.1h-1.5zM1095.8 336.5h1.5V346.1h-1.5zM1098.8 334.9h1.5V346.2h-1.5zM1101.7 333.7h1.5V346.5h-1.5zM1104.7 332.5h1.5V346.7h-1.5zM1107.7 331.4h1.5V346.7h-1.5zM1110.7 330.2h1.5V346.7h-1.5zM1113.6 329.5h1.5V346.5h-1.5zM1116.6 328.9h1.5V346.2h-1.5zM1119.6 328.7h1.5V346.9h-1.5zM1122.5 328.7h1.5V348.0h-1.5zM1125.5 328.8h1.5V349.4h-1.5zM1128.5 329.1h1.5V350.8h-1.5zM1131.5 329.4h1.5V351.4h-1.5zM1134.4 329.7h1.5V351.9h-1.5zM1137.4 330.0h1.5V351.9h-1.5zM1140.4 330.1h1.5V351.9h-1.5zM1143.3 330.1h1.5V351.9h-1.5zM1146.3 330.8h1.5V351.9h-1.5zM1149.3 332.0h1.5V351.9h-1.5zM1152.3 334.0h1.5V351.9h-1.5zM1155.2 336.9h1.5V351.9h-1.5zM1158.2 339.8h1.5V351.9h-1.5zM1161.2 342.2h1.5V351.9h-1.5zM1164.1 344.6h1.5V351.9h-1.5zM1167.1 346.8h1.5V351.9h-1.5zM1173.1 361.3h1.5V364.7h-1.5zM1176.0 357.2h1.5V365.3h-1.5zM1179.0 357.0h1.5V366.7h-1.5zM1182.0 357.3h1.5V372.0h-1.5zM1184.9 357.9h1.5V376.5h-1.5zM1187.9 353.3h1.5V373.9h-1.5zM1190.9 351.9h1.5V374.0h-1.5zM1193.8 351.9h1.5V373.4h-1.5zM1196.8 351.9h1.5V372.8h-1.5zM1199.8 351.9h1.5V369.3h-1.5zM1202.8 351.9h1.5V366.3h-1.5zM1205.7 351.9h1.5V360.7h-1.5zM1214.6 296.8h1.5V324.0h-1.5zM1217.6 290.2h1.5V313.9h-1.5zM1220.6 280.7h1.5V310.7h-1.5zM1223.6 271.2h1.5V311.0h-1.5zM1226.5 267.2h1.5V315.2h-1.5zM1229.5 253.5h1.5V313.0h-1.5zM1232.5 249.4h1.5V311.1h-1.5zM1235.4 243.0h1.5V310.2h-1.5zM1238.4 235.8h1.5V309.4h-1.5zM1241.4 232.9h1.5V310.3h-1.5zM1244.4 230.6h1.5V309.8h-1.5zM1247.3 229.3h1.5V307.2h-1.5zM1250.3 227.9h1.5V304.6h-1.5zM1253.3 227.0h1.5V302.7h-1.5zM1256.2 223.7h1.5V300.3h-1.5zM1259.2 224.3h1.5V298.7h-1.5zM1262.2 223.8h1.5V296.7h-1.5zM1265.2 224.9h1.5V295.5h-1.5zM1268.1 227.2h1.5V294.5h-1.5zM1271.1 231.2h1.5V295.3h-1.5zM1274.1 235.4h1.5V297.2h-1.5zM1277.0 240.4h1.5V298.8h-1.5zM1280.0 244.7h1.5V302.1h-1.5zM1283.0 252.4h1.5V306.2h-1.5zM1285.9 260.6h1.5V310.3h-1.5zM1288.9 265.0h1.5V314.3h-1.5zM1291.9 269.4h1.5V318.3h-1.5zM1294.9 279.1h1.5V320.7h-1.5zM1297.8 283.8h1.5V322.6h-1.5zM1300.8 291.3h1.5V326.8h-1.5zM1303.8 295.5h1.5V330.3h-1.5zM1306.7 300.7h1.5V332.1h-1.5zM1309.7 303.7h1.5V334.5h-1.5zM1312.7 310.6h1.5V338.7h-1.5zM1315.7 311.9h1.5V339.3h-1.5zM1318.6 315.9h1.5V338.9h-1.5zM1321.6 320.6h1.5V338.2h-1.5zM1324.6 326.4h1.5V339.3h-1.5zM1327.5 327.3h1.5V337.7h-1.5zM1330.5 330.4h1.5V338.0h-1.5z"/>
<path fill="#40d8dc" d="M41.1 169.9h1.5V185.7h-1.5zM44.1 161.0h1.5V178.8h-1.5zM47.0 156.1h1.5V172.0h-1.5zM50.0 151.7h1.5V166.1h-1.5zM53.0 146.6h1.5V161.3h-1.5zM56.0 141.3h1.5V156.8h-1.5zM58.9 135.9h1.5V152.4h-1.5zM61.9 130.6h1.5V148.0h-1.5zM64.9 125.2h1.5V144.4h-1.5zM67.8 119.9h1.5V140.9h-1.5zM70.8 114.5h1.5V137.3h-1.5zM73.8 110.3h1.5V134.5h-1.5zM76.8 107.7h1.5V132.6h-1.5zM79.7 105.1h1.5V130.7h-1.5zM82.7 103.2h1.5V130.4h-1.5zM85.7 101.8h1.5V131.5h-1.5zM88.6 104.2h1.5V132.6h-1.5zM91.6 106.9h1.5V135.3h-1.5zM94.6 109.9h1.5V139.0h-1.5zM97.5 114.9h1.5V142.7h-1.5zM100.5 119.8h1.5V147.9h-1.5zM103.5 126.6h1.5V153.8h-1.5zM106.5 133.6h1.5V159.8h-1.5zM109.4 142.0h1.5V165.7h-1.5zM112.4 151.8h1.5V171.0h-1.5zM115.4 163.7h1.5V174.6h-1.5zM118.3 173.6h1.5V182.7h-1.5zM121.3 183.5h1.5V192.2h-1.5zM124.3 193.9h1.5V202.6h-1.5zM127.3 202.9h1.5V210.7h-1.5zM130.2 211.9h1.5V218.6h-1.5zM133.2 219.3h1.5V225.8h-1.5zM136.2 226.2h1.5V232.7h-1.5zM139.1 233.7h1.5V239.9h-1.5zM142.1 241.6h1.5V247.1h-1.5zM145.1 249.4h1.5V251.8h-1.5zM151.0 273.7h1.5V286.0h-1.5zM154.0 274.3h1.5V289.2h-1.5zM157.0 278.0h1.5V292.5h-1.5zM159.9 287.8h1.5V296.1h-1.5zM162.9 292.6h1.5V300.9h-1.5zM165.9 297.4h1.5V305.8h-1.5zM168.9 300.4h1.5V309.9h-1.5zM171.8 303.4h1.5V314.1h-1.5zM174.8 306.1h1.5V317.9h-1.5zM177.8 307.2h1.5V320.0h-1.5zM180.7 308.4h1.5V322.0h-1.5zM183.7 309.6h1.5V323.6h-1.5zM186.7 310.8h1.5V324.2h-1.5zM189.7 312.0h1.5V324.7h-1.5zM192.6 312.3h1.5V324.8h-1.5zM195.6 312.0h1.5V324.5h-1.5zM198.6 311.7h1.5V324.2h-1.5zM201.5 311.0h1.5V323.5h-1.5zM204.5 310.1h1.5V322.6h-1.5zM207.5 309.2h1.5V321.7h-1.5zM210.4 308.0h1.5V321.1h-1.5zM213.4 306.8h1.5V320.5h-1.5zM216.4 306.1h1.5V320.3h-1.5zM219.4 307.6h1.5V322.1h-1.5zM222.3 309.0h1.5V323.8h-1.5zM225.3 310.3h1.5V325.3h-1.5zM228.3 311.2h1.5V326.2h-1.5zM231.2 312.1h1.5V327.1h-1.5zM234.2 312.3h1.5V327.7h-1.5zM237.2 312.0h1.5V328.0h-1.5zM240.2 311.7h1.5V328.3h-1.5zM243.1 311.9h1.5V329.0h-1.5zM246.1 312.2h1.5V329.9h-1.5zM249.1 312.5h1.5V330.8h-1.5zM252.0 313.1h1.5V331.1h-1.5zM255.0 313.7h1.5V331.4h-1.5zM258.0 314.3h1.5V331.7h-1.5zM261.0 315.2h1.5V332.0h-1.5zM263.9 316.1h1.5V332.3h-1.5zM266.9 316.9h1.5V332.6h-1.5zM269.9 317.5h1.5V332.9h-1.5zM272.8 318.1h1.5V333.2h-1.5zM275.8 318.6h1.5V333.5h-1.5zM278.8 319.2h1.5V333.8h-1.5zM281.8 319.8h1.5V334.1h-1.5zM284.7 320.9h1.5V334.2h-1.5zM287.7 322.0h1.5V334.2h-1.5zM290.7 323.2h1.5V334.2h-1.5zM293.6 322.5h1.5V334.2h-1.5zM296.6 321.6h1.5V334.2h-1.5zM299.6 320.7h1.5V334.2h-1.5zM302.5 319.8h1.5V334.2h-1.5zM305.5 319.0h1.5V334.2h-1.5zM308.5 317.9h1.5V334.2h-1.5zM311.5 316.4h1.5V334.2h-1.5zM314.4 314.9h1.5V334.2h-1.5zM317.4 314.3h1.5V334.1h-1.5zM320.4 313.7h1.5V333.7h-1.5zM323.3 311.7h1.5V333.1h-1.5zM326.3 309.7h1.5V332.5h-1.5zM329.3 307.7h1.5V331.4h-1.5zM332.3 305.8h1.5V330.2h-1.5zM335.2 303.4h1.5V327.7h-1.5zM338.2 301.2h1.5V325.1h-1.5zM341.2 299.7h1.5V321.8h-1.5zM344.1 297.7h1.5V318.5h-1.5zM347.1 295.5h1.5V315.2h-1.5zM350.1 291.3h1.5V312.0h-1.5zM353.1 285.8h1.5V308.7h-1.5zM356.0 280.3h1.5V305.4h-1.5zM359.0 276.3h1.5V303.3h-1.5zM362.0 279.3h1.5V301.4h-1.5zM364.9 277.7h1.5V301.0h-1.5zM367.9 281.4h1.5V301.0h-1.5zM370.9 283.0h1.5V301.2h-1.5zM373.9 283.7h1.5V301.6h-1.5zM376.8 285.2h1.5V302.5h-1.5zM379.8 288.8h1.5V303.6h-1.5zM382.8 291.8h1.5V305.3h-1.5zM385.7 294.8h1.5V307.5h-1.5zM388.7 298.5h1.5V310.5h-1.5zM391.7 302.9h1.5V313.8h-1.5zM394.6 308.0h1.5V317.2h-1.5zM397.6 311.8h1.5V320.1h-1.5zM400.6 313.3h1.5V322.8h-1.5zM403.6 314.5h1.5V324.0h-1.5zM406.5 314.9h1.5V324.9h-1.5zM409.5 315.0h1.5V324.5h-1.5zM412.5 313.1h1.5V324.0h-1.5zM415.4 311.2h1.5V322.9h-1.5zM418.4 309.0h1.5V321.8h-1.5zM421.4 306.7h1.5V320.3h-1.5zM424.4 303.6h1.5V318.7h-1.5zM427.3 298.7h1.5V315.7h-1.5zM430.3 293.9h1.5V312.8h-1.5zM433.3 289.3h1.5V310.6h-1.5zM436.2 282.8h1.5V308.2h-1.5zM439.2 279.4h1.5V303.0h-1.5zM442.2 275.6h1.5V302.6h-1.5zM445.2 273.8h1.5V302.7h-1.5zM448.1 272.5h1.5V303.4h-1.5zM451.1 275.4h1.5V304.6h-1.5zM454.1 278.1h1.5V306.1h-1.5zM457.0 280.7h1.5V307.0h-1.5zM460.0 282.4h1.5V307.7h-1.5zM463.0 283.8h1.5V306.6h-1.5zM466.0 285.3h1.5V305.2h-1.5zM468.9 286.5h1.5V302.2h-1.5zM471.9 286.9h1.5V299.5h-1.5zM474.9 287.2h1.5V297.3h-1.5zM477.8 287.6h1.5V295.1h-1.5zM480.8 287.2h1.5V292.8h-1.5zM483.8 286.4h1.5V290.6h-1.5zM486.8 359.1h1.5V361.9h-1.5zM486.8 285.7h1.5V288.4h-1.5zM489.7 359.4h1.5V364.5h-1.5zM492.7 359.7h1.5V366.9h-1.5zM495.7 360.0h1.5V369.1h-1.5zM498.6 360.1h1.5V371.3h-1.5zM501.6 360.1h1.5V373.6h-1.5zM504.6 359.9h1.5V376.6h-1.5zM507.5 359.6h1.5V373.4h-1.5zM510.5 359.2h1.5V370.0h-1.5zM513.5 358.6h1.5V366.7h-1.5zM516.5 358.1h1.5V363.7h-1.5zM519.4 358.1h1.5V361.1h-1.5zM522.4 358.1h1.5V359.6h-1.5zM531.3 315.2h1.5V316.4h-1.5zM534.3 311.4h1.5V314.1h-1.5zM537.3 307.6h1.5V313.1h-1.5zM540.2 304.4h1.5V312.5h-1.5zM543.2 305.2h1.5V313.9h-1.5zM546.2 306.5h1.5V315.6h-1.5zM549.1 309.8h1.5V317.8h-1.5zM552.1 313.2h1.5V320.1h-1.5zM555.1 317.1h1.5V324.0h-1.5zM558.1 321.0h1.5V329.5h-1.5zM561.0 321.7h1.5V327.3h-1.5zM564.0 320.1h1.5V324.7h-1.5zM567.0 316.0h1.5V321.7h-1.5zM569.9 312.1h1.5V318.9h-1.5zM572.9 309.1h1.5V316.5h-1.5zM575.9 305.3h1.5V314.1h-1.5zM578.9 300.8h1.5V310.5h-1.5zM581.8 295.7h1.5V306.7h-1.5zM584.8 289.7h1.5V302.7h-1.5zM587.8 283.0h1.5V298.8h-1.5zM590.7 278.2h1.5V295.8h-1.5zM593.7 276.1h1.5V294.0h-1.5zM596.7 276.6h1.5V293.2h-1.5zM599.6 277.0h1.5V293.0h-1.5zM602.6 277.4h1.5V292.7h-1.5zM605.6 276.6h1.5V292.4h-1.5zM608.6 276.0h1.5V292.1h-1.5zM611.5 275.6h1.5V292.1h-1.5zM614.5 275.0h1.5V292.1h-1.5zM617.5 274.1h1.5V292.2h-1.5zM620.4 275.1h1.5V292.5h-1.5zM623.4 275.9h1.5V292.9h-1.5zM626.4 276.6h1.5V293.5h-1.5zM629.4 277.0h1.5V294.1h-1.5zM632.3 277.5h1.5V295.0h-1.5zM635.3 279.0h1.5V295.8h-1.5zM638.3 280.4h1.5V297.0h-1.5zM641.2 281.5h1.5V298.1h-1.5zM644.2 281.9h1.5V299.5h-1.5zM647.2 281.5h1.5V301.0h-1.5zM650.2 283.8h1.5V302.2h-1.5zM653.1 286.8h1.5V303.3h-1.5zM656.1 288.8h1.5V305.4h-1.5zM659.1 292.5h1.5V307.7h-1.5zM662.0 296.5h1.5V310.7h-1.5zM665.0 301.4h1.5V313.7h-1.5zM668.0 306.4h1.5V316.7h-1.5zM671.0 309.9h1.5V319.2h-1.5zM673.9 312.1h1.5V321.5h-1.5zM676.9 313.3h1.5V322.9h-1.5zM679.9 314.0h1.5V324.0h-1.5zM682.8 314.1h1.5V324.4h-1.5zM685.8 314.0h1.5V324.8h-1.5zM688.8 313.7h1.5V324.8h-1.5zM691.7 313.1h1.5V324.8h-1.5zM694.7 311.9h1.5V324.8h-1.5zM697.7 308.7h1.5V324.7h-1.5zM700.7 306.2h1.5V324.6h-1.5zM703.6 306.8h1.5V324.6h-1.5zM706.6 307.4h1.5V324.5h-1.5zM709.6 307.7h1.5V324.3h-1.5zM712.5 308.0h1.5V324.0h-1.5zM715.5 308.2h1.5V324.0h-1.5zM718.5 308.2h1.5V324.2h-1.5zM721.5 308.2h1.5V324.5h-1.5zM724.4 310.6h1.5V325.7h-1.5zM727.4 313.2h1.5V328.3h-1.5zM730.4 321.4h1.5V331.1h-1.5zM733.3 328.4h1.5V334.0h-1.5zM736.3 332.4h1.5V337.0h-1.5zM739.3 335.5h1.5V340.0h-1.5zM742.3 338.3h1.5V342.7h-1.5zM745.2 387.3h1.5V391.9h-1.5zM745.2 340.9h1.5V344.9h-1.5zM748.2 396.7h1.5V406.8h-1.5zM748.2 343.5h1.5V347.0h-1.5zM751.2 403.3h1.5V422.1h-1.5zM751.2 346.0h1.5V349.0h-1.5zM754.1 411.7h1.5V439.7h-1.5zM754.1 348.6h1.5V351.2h-1.5zM757.1 421.1h1.5V455.7h-1.5zM757.1 350.1h1.5V351.9h-1.5zM760.1 430.4h1.5V473.5h-1.5zM763.1 439.3h1.5V485.3h-1.5zM766.0 448.2h1.5V494.8h-1.5zM769.0 453.8h1.5V499.3h-1.5zM772.0 456.9h1.5V502.1h-1.5zM774.9 458.1h1.5V499.0h-1.5zM777.9 458.1h1.5V486.5h-1.5zM780.9 455.5h1.5V472.7h-1.5zM783.9 452.5h1.5V458.8h-1.5zM786.8 446.7h1.5V448.7h-1.5zM789.8 348.8h1.5V351.9h-1.5zM792.8 344.3h1.5V350.1h-1.5zM795.7 336.3h1.5V349.6h-1.5zM798.7 331.4h1.5V349.0h-1.5zM801.7 324.0h1.5V347.7h-1.5zM804.6 317.1h1.5V345.9h-1.5zM807.6 313.2h1.5V344.3h-1.5zM810.6 312.1h1.5V343.1h-1.5zM813.6 316.1h1.5V342.0h-1.5zM816.5 315.5h1.5V341.7h-1.5zM819.5 316.5h1.5V341.4h-1.5zM822.5 319.2h1.5V343.2h-1.5zM825.4 319.5h1.5V345.4h-1.5zM828.4 322.5h1.5V348.0h-1.5zM831.4 326.5h1.5V350.2h-1.5zM834.4 329.2h1.5V351.0h-1.5zM837.3 332.7h1.5V351.5h-1.5zM840.3 334.2h1.5V351.9h-1.5zM843.3 335.8h1.5V351.9h-1.5zM846.2 337.6h1.5V351.9h-1.5zM849.2 339.3h1.5V351.9h-1.5zM852.2 341.1h1.5V351.9h-1.5zM855.2 342.9h1.5V351.9h-1.5zM858.1 344.7h1.5V351.9h-1.5zM861.1 346.5h1.5V351.9h-1.5zM864.1 347.1h1.5V351.9h-1.5zM867.0 346.2h1.5V351.9h-1.5zM870.0 345.7h1.5V351.9h-1.5zM873.0 347.2h1.5V351.9h-1.5zM876.0 348.7h1.5V351.9h-1.5zM878.9 350.2h1.5V351.9h-1.5zM881.9 414.4h1.5V415.8h-1.5zM881.9 351.7h1.5V351.9h-1.5zM884.9 414.8h1.5V415.9h-1.5zM887.8 415.1h1.5V417.1h-1.5zM890.8 415.4h1.5V417.7h-1.5zM893.8 415.7h1.5V418.3h-1.5zM896.7 416.0h1.5V418.9h-1.5zM899.7 416.3h1.5V419.5h-1.5zM902.7 416.6h1.5V420.1h-1.5zM905.7 416.9h1.5V420.7h-1.5zM908.6 416.2h1.5V419.1h-1.5zM911.6 415.1h1.5V416.9h-1.5zM923.5 343.9h1.5V347.7h-1.5zM926.5 339.8h1.5V345.1h-1.5zM929.4 338.8h1.5V343.5h-1.5zM932.4 333.2h1.5V339.5h-1.5zM935.4 329.6h1.5V335.7h-1.5zM938.3 326.1h1.5V332.7h-1.5zM941.3 321.3h1.5V329.1h-1.5zM944.3 319.4h1.5V327.4h-1.5zM947.3 319.4h1.5V325.6h-1.5zM950.2 319.4h1.5V325.1h-1.5zM953.2 319.9h1.5V324.8h-1.5zM956.2 318.8h1.5V324.7h-1.5zM959.1 321.0h1.5V324.7h-1.5zM962.1 319.5h1.5V324.4h-1.5zM965.1 317.2h1.5V324.1h-1.5zM968.1 317.9h1.5V323.7h-1.5zM971.0 317.4h1.5V323.4h-1.5zM974.0 318.0h1.5V323.4h-1.5zM977.0 320.0h1.5V323.4h-1.5zM979.9 321.2h1.5V323.7h-1.5zM982.9 322.0h1.5V324.0h-1.5zM985.9 322.6h1.5V324.4h-1.5zM988.8 321.5h1.5V324.7h-1.5zM991.8 323.6h1.5V324.7h-1.5zM994.8 324.0h1.5V324.7h-1.5zM1012.6 377.0h1.5V378.9h-1.5zM1015.6 377.0h1.5V380.0h-1.5zM1018.6 377.0h1.5V380.7h-1.5zM1021.5 377.0h1.5V380.6h-1.5zM1024.5 377.0h1.5V380.4h-1.5zM1027.5 376.7h1.5V379.5h-1.5zM1030.4 376.4h1.5V378.6h-1.5zM1033.4 376.4h1.5V376.7h-1.5zM1036.4 340.1h1.5V342.1h-1.5zM1039.4 339.5h1.5V341.5h-1.5zM1042.3 340.7h1.5V343.3h-1.5zM1045.3 343.0h1.5V345.7h-1.5zM1048.3 339.7h1.5V343.6h-1.5zM1051.2 337.3h1.5V341.4h-1.5zM1054.2 334.9h1.5V340.2h-1.5zM1057.2 332.7h1.5V339.4h-1.5zM1060.2 333.3h1.5V340.6h-1.5zM1063.1 331.4h1.5V342.7h-1.5zM1066.1 333.2h1.5V343.3h-1.5zM1069.1 333.7h1.5V343.4h-1.5zM1072.0 334.0h1.5V343.4h-1.5zM1075.0 334.7h1.5V343.7h-1.5zM1078.0 335.5h1.5V344.1h-1.5zM1081.0 337.8h1.5V344.8h-1.5zM1083.9 338.7h1.5V340.1h-1.5zM1086.9 336.2h1.5V339.8h-1.5zM1089.9 336.0h1.5V339.5h-1.5zM1092.8 331.1h1.5V338.3h-1.5zM1095.8 329.6h1.5V336.5h-1.5zM1098.8 328.6h1.5V334.9h-1.5zM1101.7 328.3h1.5V333.7h-1.5zM1104.7 328.1h1.5V332.5h-1.5zM1107.7 328.4h1.5V331.4h-1.5zM1110.7 328.7h1.5V330.2h-1.5zM1122.5 362.0h1.5V363.6h-1.5zM1125.5 362.3h1.5V365.3h-1.5zM1128.5 362.7h1.5V365.9h-1.5zM1131.5 363.3h1.5V369.8h-1.5zM1134.4 365.6h1.5V372.3h-1.5zM1137.4 370.9h1.5V378.1h-1.5zM1140.4 373.0h1.5V383.1h-1.5zM1143.3 375.1h1.5V386.4h-1.5zM1146.3 377.0h1.5V388.8h-1.5zM1149.3 379.7h1.5V394.0h-1.5zM1152.3 383.9h1.5V403.8h-1.5zM1155.2 386.4h1.5V415.6h-1.5zM1158.2 388.7h1.5V412.4h-1.5zM1161.2 390.5h1.5V414.4h-1.5zM1164.1 389.5h1.5V398.8h-1.5zM1170.1 365.9h1.5V367.3h-1.5zM1187.9 289.8h1.5V309.9h-1.5zM1190.9 280.7h1.5V303.7h-1.5zM1193.8 267.6h1.5V302.0h-1.5zM1196.8 268.2h1.5V303.4h-1.5zM1199.8 285.7h1.5V307.9h-1.5zM1202.8 295.2h1.5V316.5h-1.5zM1205.7 297.8h1.5V319.9h-1.5zM1208.7 300.4h1.5V322.4h-1.5zM1211.7 297.8h1.5V326.1h-1.5zM1214.6 295.1h1.5V296.8h-1.5zM1217.6 281.0h1.5V290.2h-1.5zM1220.6 272.7h1.5V280.7h-1.5zM1223.6 263.2h1.5V271.2h-1.5zM1226.5 256.7h1.5V267.2h-1.5zM1229.5 248.1h1.5V253.5h-1.5zM1232.5 243.4h1.5V249.4h-1.5zM1235.4 237.5h1.5V243.0h-1.5zM1238.4 229.8h1.5V235.8h-1.5zM1241.4 227.9h1.5V232.9h-1.5zM1244.4 226.5h1.5V230.6h-1.5zM1247.3 225.3h1.5V229.3h-1.5zM1250.3 358.0h1.5V359.9h-1.5zM1250.3 226.7h1.5V227.9h-1.5zM1253.3 360.9h1.5V365.9h-1.5zM1256.2 363.6h1.5V370.5h-1.5zM1259.2 365.9h1.5V373.6h-1.5zM1262.2 368.3h1.5V376.4h-1.5zM1265.2 368.7h1.5V379.9h-1.5zM1268.1 370.5h1.5V381.9h-1.5zM1271.1 371.1h1.5V382.9h-1.5zM1274.1 370.7h1.5V383.6h-1.5zM1277.0 370.2h1.5V385.0h-1.5zM1280.0 370.0h1.5V386.7h-1.5zM1283.0 370.5h1.5V385.2h-1.5zM1285.9 370.6h1.5V383.1h-1.5zM1288.9 369.6h1.5V380.1h-1.5zM1291.9 368.7h1.5V375.8h-1.5zM1294.9 368.0h1.5V373.0h-1.5zM1297.8 366.5h1.5V370.9h-1.5zM1300.8 364.6h1.5V366.4h-1.5zM1303.8 362.4h1.5V363.9h-1.5zM1306.7 360.2h1.5V361.5h-1.5zM1309.7 358.6h1.5V359.5h-1.5zM1324.6 325.8h1.5V326.4h-1.5zM1327.5 326.4h1.5V327.3h-1.5zM1330.5 329.4h1.5V330.4h-1.5z"/>
<path fill="#ff7800" d="M41.1 147.2h1.5V169.9h-1.5zM44.1 144.2h1.5V161.0h-1.5zM47.0 141.3h1.5V156.1h-1.5zM50.0 138.3h1.5V151.7h-1.5zM53.0 133.9h1.5V146.6h-1.5zM56.0 129.0h1.5V141.3h-1.5zM58.9 124.3h1.5V135.9h-1.5zM61.9 119.7h1.5V130.6h-1.5zM64.9 112.7h1.5V125.2h-1.5zM67.8 105.8h1.5V119.9h-1.5zM70.8 97.1h1.5V114.5h-1.5zM73.8 88.8h1.5V110.3h-1.5zM76.8 81.4h1.5V107.7h-1.5zM79.7 78.3h1.5V105.1h-1.5zM82.7 76.1h1.5V103.2h-1.5zM85.7 74.8h1.5V101.8h-1.5zM88.6 75.1h1.5V104.2h-1.5zM91.6 75.6h1.5V106.9h-1.5zM94.6 78.9h1.5V109.9h-1.5zM97.5 83.5h1.5V114.9h-1.5zM100.5 89.5h1.5V119.8h-1.5zM103.5 96.8h1.5V126.6h-1.5zM106.5 104.2h1.5V133.6h-1.5zM109.4 111.8h1.5V142.0h-1.5zM112.4 122.2h1.5V151.8h-1.5zM115.4 132.6h1.5V163.7h-1.5zM118.3 143.0h1.5V173.6h-1.5zM121.3 153.4h1.5V183.5h-1.5zM124.3 162.0h1.5V193.9h-1.5zM127.3 169.8h1.5V202.9h-1.5zM130.2 177.5h1.5V211.9h-1.5zM133.2 183.2h1.5V219.3h-1.5zM136.2 188.1h1.5V226.2h-1.5zM139.1 196.4h1.5V233.7h-1.5zM142.1 207.3h1.5V241.6h-1.5zM145.1 225.2h1.5V249.4h-1.5zM148.1 254.8h1.5V255.6h-1.5zM151.0 232.7h1.5V273.7h-1.5zM154.0 239.7h1.5V274.3h-1.5zM157.0 246.8h1.5V278.0h-1.5zM159.9 274.6h1.5V287.8h-1.5zM162.9 265.5h1.5V292.6h-1.5zM165.9 286.3h1.5V297.4h-1.5zM168.9 277.4h1.5V300.4h-1.5zM171.8 284.8h1.5V303.4h-1.5zM174.8 295.1h1.5V306.1h-1.5zM177.8 295.4h1.5V307.2h-1.5zM180.7 295.6h1.5V308.4h-1.5zM183.7 295.9h1.5V309.6h-1.5zM186.7 296.2h1.5V310.8h-1.5zM189.7 296.5h1.5V312.0h-1.5zM192.6 296.3h1.5V312.3h-1.5zM195.6 295.7h1.5V312.0h-1.5zM198.6 295.1h1.5V311.7h-1.5zM201.5 294.8h1.5V311.0h-1.5zM204.5 294.5h1.5V310.1h-1.5zM207.5 294.2h1.5V309.2h-1.5zM210.4 293.9h1.5V308.0h-1.5zM213.4 293.6h1.5V306.8h-1.5zM216.4 293.7h1.5V306.1h-1.5zM219.4 295.7h1.5V307.6h-1.5zM222.3 297.8h1.5V309.0h-1.5zM225.3 299.5h1.5V310.3h-1.5zM228.3 300.4h1.5V311.2h-1.5zM231.2 301.3h1.5V312.1h-1.5zM234.2 301.2h1.5V312.3h-1.5zM237.2 300.3h1.5V312.0h-1.5zM240.2 299.4h1.5V311.7h-1.5zM243.1 298.1h1.5V311.9h-1.5zM246.1 296.6h1.5V312.2h-1.5zM249.1 295.1h1.5V312.5h-1.5zM252.0 294.4h1.5V313.1h-1.5zM255.0 293.8h1.5V313.7h-1.5zM258.0 293.5h1.5V314.3h-1.5zM261.0 295.0h1.5V315.2h-1.5zM263.9 296.5h1.5V316.1h-1.5zM266.9 297.7h1.5V316.9h-1.5zM269.9 298.3h1.5V317.5h-1.5zM272.8 298.9h1.5V318.1h-1.5zM275.8 299.3h1.5V318.6h-1.5zM278.8 299.6h1.5V319.2h-1.5zM281.8 299.9h1.5V319.8h-1.5zM284.7 300.6h1.5V320.9h-1.5zM287.7 301.5h1.5V322.0h-1.5zM290.7 302.4h1.5V323.2h-1.5zM293.6 301.7h1.5V322.5h-1.5zM296.6 300.8h1.5V321.6h-1.5zM299.6 300.0h1.5V320.7h-1.5zM302.5 299.7h1.5V319.8h-1.5zM305.5 299.4h1.5V319.0h-1.5zM308.5 299.5h1.5V317.9h-1.5zM311.5 300.7h1.5V316.4h-1.5zM314.4 301.9h1.5V314.9h-1.5zM317.4 301.5h1.5V314.3h-1.5zM320.4 300.4h1.5V313.7h-1.5zM323.3 300.9h1.5V311.7h-1.5zM326.3 304.2h1.5V309.7h-1.5zM329.3 304.1h1.5V307.7h-1.5zM332.3 300.8h1.5V305.8h-1.5zM335.2 299.0h1.5V303.4h-1.5zM338.2 359.7h1.5V362.6h-1.5zM338.2 300.6h1.5V301.2h-1.5zM341.2 359.1h1.5V361.6h-1.5zM344.1 357.9h1.5V360.7h-1.5zM347.1 356.7h1.5V359.8h-1.5zM350.1 355.7h1.5V358.9h-1.5zM353.1 355.1h1.5V358.0h-1.5zM356.0 354.5h1.5V357.1h-1.5zM359.0 354.0h1.5V356.8h-1.5zM362.0 353.7h1.5V357.1h-1.5zM364.9 353.4h1.5V357.4h-1.5zM367.9 353.1h1.5V358.6h-1.5zM370.9 352.8h1.5V358.6h-1.5zM373.9 352.5h1.5V357.5h-1.5zM376.8 351.9h1.5V355.1h-1.5zM379.8 351.9h1.5V356.4h-1.5zM385.7 294.2h1.5V294.8h-1.5zM388.7 297.7h1.5V298.5h-1.5zM391.7 301.4h1.5V302.9h-1.5zM394.6 305.1h1.5V308.0h-1.5zM397.6 308.2h1.5V311.8h-1.5zM400.6 307.8h1.5V313.3h-1.5zM403.6 307.0h1.5V314.5h-1.5zM406.5 309.6h1.5V314.9h-1.5zM409.5 309.3h1.5V315.0h-1.5zM412.5 309.8h1.5V313.1h-1.5zM415.4 307.4h1.5V311.2h-1.5zM418.4 305.7h1.5V309.0h-1.5zM421.4 304.8h1.5V306.7h-1.5zM427.3 360.8h1.5V362.6h-1.5zM430.3 361.7h1.5V363.9h-1.5zM433.3 362.6h1.5V365.4h-1.5zM433.3 286.6h1.5V289.3h-1.5zM436.2 363.4h1.5V368.7h-1.5zM436.2 281.8h1.5V282.8h-1.5zM439.2 364.0h1.5V371.9h-1.5zM442.2 364.6h1.5V374.5h-1.5zM445.2 365.2h1.5V376.7h-1.5zM448.1 365.8h1.5V378.4h-1.5zM451.1 365.7h1.5V377.4h-1.5zM454.1 365.1h1.5V375.7h-1.5zM457.0 364.5h1.5V374.2h-1.5zM460.0 363.9h1.5V373.0h-1.5zM463.0 363.3h1.5V372.1h-1.5zM466.0 362.7h1.5V371.1h-1.5zM468.9 362.1h1.5V369.6h-1.5zM471.9 361.8h1.5V368.3h-1.5zM474.9 361.5h1.5V367.2h-1.5zM477.8 360.7h1.5V365.0h-1.5zM492.7 285.8h1.5V287.7h-1.5zM495.7 288.0h1.5V290.6h-1.5zM498.6 290.9h1.5V293.6h-1.5zM501.6 293.9h1.5V296.8h-1.5zM504.6 296.9h1.5V300.1h-1.5zM507.5 300.4h1.5V303.4h-1.5zM510.5 304.1h1.5V306.8h-1.5zM513.5 307.5h1.5V309.8h-1.5zM516.5 310.8h1.5V312.8h-1.5zM519.4 314.3h1.5V315.7h-1.5zM522.4 359.6h1.5V362.7h-1.5zM522.4 317.0h1.5V317.9h-1.5zM525.4 357.8h1.5V364.0h-1.5zM525.4 318.5h1.5V318.8h-1.5zM528.3 357.5h1.5V365.5h-1.5zM531.3 357.0h1.5V365.9h-1.5zM534.3 356.4h1.5V365.6h-1.5zM537.3 356.2h1.5V365.5h-1.5zM540.2 356.5h1.5V365.8h-1.5zM543.2 356.7h1.5V365.9h-1.5zM546.2 356.9h1.5V365.1h-1.5zM549.1 357.1h1.5V364.2h-1.5zM552.1 357.3h1.5V363.7h-1.5zM555.1 360.0h1.5V364.7h-1.5zM561.0 320.7h1.5V321.7h-1.5zM564.0 317.7h1.5V320.1h-1.5zM567.0 311.2h1.5V316.0h-1.5zM569.9 305.0h1.5V312.1h-1.5zM572.9 300.0h1.5V309.1h-1.5zM575.9 296.8h1.5V305.3h-1.5zM578.9 294.4h1.5V300.8h-1.5zM581.8 291.8h1.5V295.7h-1.5zM584.8 286.9h1.5V289.7h-1.5zM587.8 280.3h1.5V283.0h-1.5zM590.7 274.8h1.5V278.2h-1.5zM593.7 271.5h1.5V276.1h-1.5zM596.7 272.5h1.5V276.6h-1.5zM599.6 273.9h1.5V277.0h-1.5zM602.6 275.3h1.5V277.4h-1.5zM605.6 274.3h1.5V276.6h-1.5zM608.6 272.9h1.5V276.0h-1.5zM611.5 270.4h1.5V275.6h-1.5zM614.5 267.5h1.5V275.0h-1.5zM617.5 265.5h1.5V274.1h-1.5zM620.4 264.8h1.5V275.1h-1.5zM623.4 265.8h1.5V275.9h-1.5zM626.4 269.2h1.5V276.6h-1.5zM629.4 270.9h1.5V277.0h-1.5zM632.3 270.0h1.5V277.5h-1.5zM635.3 270.0h1.5V279.0h-1.5zM638.3 270.3h1.5V280.4h-1.5zM641.2 271.0h1.5V281.5h-1.5zM644.2 271.7h1.5V281.9h-1.5zM647.2 272.5h1.5V281.5h-1.5zM650.2 277.6h1.5V283.8h-1.5zM653.1 283.5h1.5V286.8h-1.5zM656.1 287.4h1.5V288.8h-1.5zM659.1 286.3h1.5V292.5h-1.5zM662.0 285.6h1.5V296.5h-1.5zM665.0 286.6h1.5V301.4h-1.5zM668.0 288.9h1.5V306.4h-1.5zM671.0 291.2h1.5V309.9h-1.5zM673.9 293.4h1.5V312.1h-1.5zM676.9 294.9h1.5V313.3h-1.5zM679.9 296.0h1.5V314.0h-1.5zM682.8 297.8h1.5V314.1h-1.5zM685.8 299.6h1.5V314.0h-1.5zM688.8 301.1h1.5V313.7h-1.5zM691.7 302.6h1.5V313.1h-1.5zM694.7 304.0h1.5V311.9h-1.5zM697.7 305.4h1.5V308.7h-1.5zM706.6 362.5h1.5V363.4h-1.5zM709.6 362.7h1.5V364.4h-1.5zM709.6 307.4h1.5V307.7h-1.5zM712.5 363.0h1.5V366.2h-1.5zM712.5 307.4h1.5V308.0h-1.5zM715.5 363.3h1.5V367.2h-1.5zM715.5 307.4h1.5V308.2h-1.5zM718.5 362.9h1.5V366.6h-1.5zM718.5 306.7h1.5V308.2h-1.5zM721.5 362.3h1.5V364.8h-1.5zM721.5 305.8h1.5V308.2h-1.5zM724.4 305.8h1.5V310.6h-1.5zM727.4 306.6h1.5V313.2h-1.5zM730.4 304.0h1.5V321.4h-1.5zM733.3 300.4h1.5V328.4h-1.5zM736.3 296.0h1.5V332.4h-1.5zM739.3 294.1h1.5V335.5h-1.5zM742.3 294.0h1.5V338.3h-1.5zM745.2 292.0h1.5V340.9h-1.5zM748.2 290.8h1.5V343.5h-1.5zM751.2 291.7h1.5V346.0h-1.5zM754.1 297.0h1.5V348.6h-1.5zM757.1 301.8h1.5V350.1h-1.5zM760.1 303.5h1.5V351.9h-1.5zM763.1 305.4h1.5V351.9h-1.5zM766.0 310.4h1.5V351.9h-1.5zM769.0 315.0h1.5V351.9h-1.5zM772.0 318.7h1.5V351.9h-1.5zM774.9 325.9h1.5V351.9h-1.5zM777.9 330.0h1.5V351.9h-1.5zM780.9 335.9h1.5V351.9h-1.5zM783.9 337.4h1.5V351.9h-1.5zM786.8 338.9h1.5V351.9h-1.5zM789.8 340.4h1.5V348.8h-1.5zM792.8 341.8h1.5V344.3h-1.5zM801.7 322.1h1.5V324.0h-1.5zM804.6 314.7h1.5V317.1h-1.5zM807.6 312.7h1.5V313.2h-1.5zM810.6 311.7h1.5V312.1h-1.5zM813.6 313.2h1.5V316.1h-1.5zM816.5 310.9h1.5V315.5h-1.5zM819.5 310.2h1.5V316.5h-1.5zM822.5 308.9h1.5V319.2h-1.5zM825.4 304.7h1.5V319.5h-1.5zM828.4 302.9h1.5V322.5h-1.5zM831.4 307.0h1.5V326.5h-1.5zM834.4 308.7h1.5V329.2h-1.5zM837.3 310.3h1.5V332.7h-1.5zM840.3 311.9h1.5V334.2h-1.5zM843.3 307.6h1.5V335.8h-1.5zM846.2 306.3h1.5V337.6h-1.5zM849.2 303.0h1.5V339.3h-1.5zM852.2 301.6h1.5V341.1h-1.5zM855.2 301.4h1.5V342.9h-1.5zM858.1 304.1h1.5V344.7h-1.5zM861.1 312.9h1.5V346.5h-1.5zM864.1 319.4h1.5V347.1h-1.5zM867.0 317.7h1.5V346.2h-1.5zM870.0 318.5h1.5V345.7h-1.5zM873.0 321.5h1.5V347.2h-1.5zM876.0 325.9h1.5V348.7h-1.5zM878.9 333.0h1.5V350.2h-1.5zM881.9 337.2h1.5V351.7h-1.5zM884.9 340.2h1.5V351.9h-1.5zM887.8 343.2h1.5V351.9h-1.5zM890.8 342.8h1.5V351.9h-1.5zM893.8 341.0h1.5V351.9h-1.5zM896.7 339.7h1.5V351.9h-1.5zM899.7 338.9h1.5V351.9h-1.5zM902.7 339.4h1.5V351.9h-1.5zM905.7 340.8h1.5V351.9h-1.5zM908.6 340.8h1.5V351.9h-1.5zM911.6 341.4h1.5V351.9h-1.5zM914.6 342.3h1.5V351.9h-1.5zM917.5 343.4h1.5V351.9h-1.5zM920.5 345.2h1.5V351.9h-1.5zM923.5 341.4h1.5V343.9h-1.5zM926.5 338.8h1.5V339.8h-1.5zM932.4 401.9h1.5V405.0h-1.5zM935.4 400.2h1.5V410.3h-1.5zM938.3 399.1h1.5V413.3h-1.5zM941.3 397.5h1.5V414.3h-1.5zM944.3 395.7h1.5V414.7h-1.5zM947.3 394.7h1.5V414.1h-1.5zM950.2 393.0h1.5V413.2h-1.5zM953.2 391.2h1.5V411.0h-1.5zM956.2 389.7h1.5V409.1h-1.5zM959.1 387.5h1.5V406.7h-1.5zM962.1 386.5h1.5V404.3h-1.5zM965.1 384.8h1.5V402.1h-1.5zM968.1 383.6h1.5V400.7h-1.5zM971.0 382.4h1.5V399.7h-1.5zM974.0 381.8h1.5V398.7h-1.5zM977.0 381.2h1.5V398.0h-1.5zM979.9 380.8h1.5V397.2h-1.5zM982.9 380.5h1.5V396.5h-1.5zM985.9 380.1h1.5V396.4h-1.5zM988.8 379.5h1.5V397.6h-1.5zM991.8 379.0h1.5V398.2h-1.5zM994.8 378.7h1.5V398.6h-1.5zM997.8 378.4h1.5V399.3h-1.5zM1000.7 378.1h1.5V400.0h-1.5zM1003.7 377.8h1.5V400.0h-1.5zM1006.7 377.5h1.5V400.0h-1.5zM1009.6 377.3h1.5V399.7h-1.5zM1012.6 378.9h1.5V399.4h-1.5zM1015.6 380.0h1.5V398.8h-1.5zM1018.6 380.7h1.5V398.2h-1.5zM1021.5 380.6h1.5V397.2h-1.5zM1024.5 380.4h1.5V396.1h-1.5zM1027.5 379.5h1.5V394.2h-1.5zM1030.4 378.6h1.5V390.9h-1.5zM1051.2 335.2h1.5V337.3h-1.5zM1054.2 330.4h1.5V334.9h-1.5zM1057.2 326.8h1.5V332.7h-1.5zM1060.2 329.1h1.5V333.3h-1.5zM1063.1 325.4h1.5V331.4h-1.5zM1066.1 323.6h1.5V333.2h-1.5zM1069.1 322.1h1.5V333.7h-1.5zM1072.0 320.3h1.5V334.0h-1.5zM1075.0 320.0h1.5V334.7h-1.5zM1078.0 322.9h1.5V335.5h-1.5zM1081.0 327.1h1.5V337.8h-1.5zM1083.9 331.9h1.5V338.7h-1.5zM1086.9 330.8h1.5V336.2h-1.5zM1089.9 329.8h1.5V336.0h-1.5zM1092.8 328.8h1.5V331.1h-1.5zM1095.8 327.9h1.5V329.6h-1.5zM1098.8 327.7h1.5V328.6h-1.5zM1101.7 327.3h1.5V328.3h-1.5zM1134.4 372.3h1.5V373.8h-1.5zM1137.4 378.1h1.5V383.9h-1.5zM1140.4 383.1h1.5V389.6h-1.5zM1143.3 386.4h1.5V394.8h-1.5zM1146.3 388.8h1.5V395.4h-1.5zM1149.3 394.0h1.5V397.3h-1.5zM1152.3 403.8h1.5V407.8h-1.5zM1155.2 415.6h1.5V418.5h-1.5zM1158.2 412.4h1.5V418.8h-1.5zM1187.9 281.8h1.5V289.8h-1.5zM1190.9 272.7h1.5V280.7h-1.5zM1193.8 259.6h1.5V267.6h-1.5zM1196.8 262.5h1.5V268.2h-1.5zM1199.8 268.0h1.5V285.7h-1.5zM1202.8 277.9h1.5V295.2h-1.5zM1205.7 282.7h1.5V297.8h-1.5zM1208.7 289.8h1.5V300.4h-1.5zM1211.7 289.8h1.5V297.8h-1.5zM1214.6 280.5h1.5V295.1h-1.5zM1217.6 255.5h1.5V281.0h-1.5zM1220.6 246.0h1.5V272.7h-1.5zM1223.6 234.2h1.5V263.2h-1.5zM1226.5 218.5h1.5V256.7h-1.5zM1229.5 212.4h1.5V248.1h-1.5zM1232.5 205.3h1.5V243.4h-1.5zM1235.4 199.3h1.5V237.5h-1.5zM1238.4 188.6h1.5V229.8h-1.5zM1241.4 184.2h1.5V227.9h-1.5zM1244.4 181.1h1.5V226.5h-1.5zM1247.3 176.5h1.5V225.3h-1.5zM1250.3 177.6h1.5V226.7h-1.5zM1253.3 171.7h1.5V227.0h-1.5zM1256.2 169.1h1.5V223.7h-1.5zM1259.2 167.5h1.5V224.3h-1.5zM1262.2 172.9h1.5V223.8h-1.5zM1265.2 175.9h1.5V224.9h-1.5zM1268.1 180.9h1.5V227.2h-1.5zM1271.1 190.3h1.5V231.2h-1.5zM1274.1 201.0h1.5V235.4h-1.5zM1277.0 208.0h1.5V240.4h-1.5zM1280.0 216.0h1.5V244.7h-1.5zM1283.0 228.8h1.5V252.4h-1.5zM1285.9 244.3h1.5V260.6h-1.5zM1288.9 251.8h1.5V265.0h-1.5zM1291.9 264.1h1.5V269.4h-1.5zM1294.9 273.3h1.5V279.1h-1.5zM1297.8 279.4h1.5V283.8h-1.5zM1300.8 287.3h1.5V291.3h-1.5zM1303.8 292.7h1.5V295.5h-1.5zM1306.7 297.4h1.5V300.7h-1.5zM1309.7 299.7h1.5V303.7h-1.5zM1312.7 306.6h1.5V310.6h-1.5zM1315.7 310.2h1.5V311.9h-1.5zM1318.6 312.6h1.5V315.9h-1.5zM1321.6 312.7h1.5V320.6h-1.5zM1324.6 314.0h1.5V325.8h-1.5zM1327.5 314.0h1.5V326.4h-1.5zM1330.5 315.9h1.5V329.4h-1.5z"/>
<path fill="#deb035" d="M41.1 136.6h1.5V147.2h-1.5zM44.1 126.3h1.5V144.2h-1.5zM47.0 121.4h1.5V141.3h-1.5zM50.0 118.7h1.5V138.3h-1.5zM53.0 114.2h1.5V133.9h-1.5zM56.0 108.8h1.5V129.0h-1.5zM58.9 104.7h1.5V124.3h-1.5zM61.9 100.7h1.5V119.7h-1.5zM64.9 95.6h1.5V112.7h-1.5zM67.8 88.5h1.5V105.8h-1.5zM70.8 79.8h1.5V97.1h-1.5zM73.8 75.0h1.5V88.8h-1.5zM76.8 70.3h1.5V81.4h-1.5zM79.7 63.6h1.5V78.3h-1.5zM82.7 58.6h1.5V76.1h-1.5zM85.7 53.9h1.5V74.8h-1.5zM88.6 54.6h1.5V75.1h-1.5zM91.6 55.9h1.5V75.6h-1.5zM94.6 57.5h1.5V78.9h-1.5zM97.5 62.3h1.5V83.5h-1.5zM100.5 67.8h1.5V89.5h-1.5zM103.5 73.8h1.5V96.8h-1.5zM106.5 81.2h1.5V104.2h-1.5zM109.4 90.1h1.5V111.8h-1.5zM112.4 99.0h1.5V122.2h-1.5zM115.4 110.5h1.5V132.6h-1.5zM118.3 123.8h1.5V143.0h-1.5zM121.3 137.2h1.5V153.4h-1.5zM124.3 148.6h1.5V162.0h-1.5zM127.3 158.5h1.5V169.8h-1.5zM130.2 166.6h1.5V177.5h-1.5zM133.2 172.4h1.5V183.2h-1.5zM136.2 177.3h1.5V188.1h-1.5zM139.1 185.3h1.5V196.4h-1.5zM142.1 195.9h1.5V207.3h-1.5zM145.1 207.8h1.5V225.2h-1.5zM148.1 218.7h1.5V254.8h-1.5zM151.0 227.9h1.5V232.7h-1.5zM154.0 232.4h1.5V239.7h-1.5zM157.0 234.0h1.5V246.8h-1.5zM159.9 237.2h1.5V274.6h-1.5zM162.9 243.6h1.5V265.5h-1.5zM165.9 256.7h1.5V286.3h-1.5zM168.9 258.8h1.5V277.4h-1.5zM171.8 264.4h1.5V284.8h-1.5zM174.8 271.9h1.5V295.1h-1.5zM177.8 278.0h1.5V295.4h-1.5zM180.7 282.6h1.5V295.6h-1.5zM183.7 282.2h1.5V295.9h-1.5zM186.7 280.1h1.5V296.2h-1.5zM189.7 279.1h1.5V296.5h-1.5zM192.6 281.8h1.5V296.3h-1.5zM195.6 283.4h1.5V295.7h-1.5zM198.6 284.0h1.5V295.1h-1.5zM201.5 282.7h1.5V294.8h-1.5zM204.5 283.4h1.5V294.5h-1.5zM207.5 284.4h1.5V294.2h-1.5zM210.4 283.9h1.5V293.9h-1.5zM213.4 284.5h1.5V293.6h-1.5zM216.4 285.6h1.5V293.7h-1.5zM219.4 289.1h1.5V295.7h-1.5zM222.3 292.7h1.5V297.8h-1.5zM225.3 295.0h1.5V299.5h-1.5zM228.3 295.0h1.5V300.4h-1.5zM231.2 295.0h1.5V301.3h-1.5zM234.2 294.2h1.5V301.2h-1.5zM237.2 292.7h1.5V300.3h-1.5zM240.2 291.2h1.5V299.4h-1.5zM243.1 290.4h1.5V298.1h-1.5zM246.1 289.8h1.5V296.6h-1.5zM249.1 289.2h1.5V295.1h-1.5zM252.0 287.5h1.5V294.4h-1.5zM255.0 285.7h1.5V293.8h-1.5zM258.0 284.3h1.5V293.5h-1.5zM261.0 285.5h1.5V295.0h-1.5zM263.9 286.7h1.5V296.5h-1.5zM266.9 287.8h1.5V297.7h-1.5zM269.9 288.7h1.5V298.3h-1.5zM272.8 289.6h1.5V298.9h-1.5zM275.8 290.3h1.5V299.3h-1.5zM278.8 290.9h1.5V299.6h-1.5zM281.8 291.5h1.5V299.9h-1.5zM284.7 293.8h1.5V300.6h-1.5zM287.7 296.7h1.5V301.5h-1.5zM290.7 297.0h1.5V302.4h-1.5zM293.6 297.3h1.5V301.7h-1.5zM296.6 296.9h1.5V300.8h-1.5zM299.6 294.3h1.5V300.0h-1.5zM302.5 291.7h1.5V299.7h-1.5zM305.5 293.1h1.5V299.4h-1.5zM308.5 294.6h1.5V299.5h-1.5zM311.5 296.4h1.5V300.7h-1.5zM314.4 298.2h1.5V301.9h-1.5zM317.4 299.6h1.5V301.5h-1.5zM326.3 301.0h1.5V304.2h-1.5zM329.3 300.2h1.5V304.1h-1.5zM332.3 370.9h1.5V372.8h-1.5zM332.3 299.3h1.5V300.8h-1.5zM335.2 365.0h1.5V369.9h-1.5zM338.2 362.6h1.5V367.3h-1.5zM338.2 298.6h1.5V300.6h-1.5zM341.2 361.6h1.5V366.6h-1.5zM344.1 360.7h1.5V366.0h-1.5zM347.1 359.8h1.5V365.4h-1.5zM350.1 358.9h1.5V364.7h-1.5zM353.1 358.0h1.5V363.5h-1.5zM356.0 357.1h1.5V362.3h-1.5zM359.0 356.8h1.5V362.2h-1.5zM362.0 357.1h1.5V363.4h-1.5zM364.9 357.4h1.5V364.6h-1.5zM367.9 358.6h1.5V365.2h-1.5zM370.9 358.6h1.5V365.3h-1.5zM373.9 357.5h1.5V365.0h-1.5zM376.8 355.1h1.5V361.3h-1.5zM379.8 356.4h1.5V359.5h-1.5zM382.8 351.9h1.5V360.9h-1.5zM385.7 351.9h1.5V360.1h-1.5zM388.7 351.9h1.5V360.5h-1.5zM391.7 351.9h1.5V360.6h-1.5zM394.6 351.9h1.5V360.2h-1.5zM397.6 351.9h1.5V360.5h-1.5zM400.6 351.9h1.5V361.2h-1.5zM403.6 351.9h1.5V362.2h-1.5zM406.5 351.9h1.5V363.4h-1.5zM409.5 353.5h1.5V363.8h-1.5zM412.5 355.0h1.5V364.0h-1.5zM415.4 356.4h1.5V363.6h-1.5zM418.4 357.7h1.5V363.3h-1.5zM421.4 358.9h1.5V362.9h-1.5zM424.4 359.9h1.5V362.4h-1.5zM436.2 281.4h1.5V281.8h-1.5zM439.2 277.9h1.5V279.4h-1.5zM442.2 274.3h1.5V275.6h-1.5zM445.2 272.1h1.5V273.8h-1.5zM448.1 270.4h1.5V272.5h-1.5zM451.1 271.9h1.5V275.4h-1.5zM454.1 273.7h1.5V278.1h-1.5zM457.0 275.2h1.5V280.7h-1.5zM460.0 275.5h1.5V282.4h-1.5zM463.0 276.8h1.5V283.8h-1.5zM466.0 278.7h1.5V285.3h-1.5zM468.9 280.1h1.5V286.5h-1.5zM471.9 281.0h1.5V286.9h-1.5zM474.9 281.0h1.5V287.2h-1.5zM477.8 281.5h1.5V287.6h-1.5zM480.8 282.2h1.5V287.2h-1.5zM483.8 280.3h1.5V286.4h-1.5zM486.8 277.7h1.5V285.7h-1.5zM489.7 277.0h1.5V286.4h-1.5zM492.7 277.6h1.5V285.8h-1.5zM495.7 282.9h1.5V288.0h-1.5zM525.4 317.8h1.5V318.5h-1.5zM528.3 315.3h1.5V318.0h-1.5zM531.3 312.3h1.5V315.2h-1.5zM534.3 309.0h1.5V311.4h-1.5zM537.3 305.6h1.5V307.6h-1.5zM540.2 302.4h1.5V304.4h-1.5zM543.2 303.2h1.5V305.2h-1.5zM546.2 304.5h1.5V306.5h-1.5zM549.1 307.8h1.5V309.8h-1.5zM552.1 311.2h1.5V313.2h-1.5zM555.1 314.9h1.5V317.1h-1.5zM558.1 317.3h1.5V321.0h-1.5zM561.0 314.3h1.5V320.7h-1.5zM564.0 306.8h1.5V317.7h-1.5zM567.0 300.0h1.5V311.2h-1.5zM569.9 294.2h1.5V305.0h-1.5zM572.9 288.7h1.5V300.0h-1.5zM575.9 284.6h1.5V296.8h-1.5zM578.9 281.7h1.5V294.4h-1.5zM581.8 279.2h1.5V291.8h-1.5zM584.8 274.2h1.5V286.9h-1.5zM587.8 267.2h1.5V280.3h-1.5zM590.7 260.5h1.5V274.8h-1.5zM593.7 257.1h1.5V271.5h-1.5zM596.7 256.6h1.5V272.5h-1.5zM599.6 259.1h1.5V273.9h-1.5zM602.6 263.3h1.5V275.3h-1.5zM605.6 262.6h1.5V274.3h-1.5zM608.6 261.9h1.5V272.9h-1.5zM611.5 261.4h1.5V270.4h-1.5zM614.5 258.8h1.5V267.5h-1.5zM617.5 254.2h1.5V265.5h-1.5zM620.4 253.8h1.5V264.8h-1.5zM623.4 253.5h1.5V265.8h-1.5zM626.4 258.7h1.5V269.2h-1.5zM629.4 260.7h1.5V270.9h-1.5zM632.3 260.7h1.5V270.0h-1.5zM635.3 259.6h1.5V270.0h-1.5zM638.3 260.2h1.5V270.3h-1.5zM641.2 261.3h1.5V271.0h-1.5zM644.2 261.9h1.5V271.7h-1.5zM647.2 262.5h1.5V272.5h-1.5zM650.2 267.4h1.5V277.6h-1.5zM653.1 274.7h1.5V283.5h-1.5zM656.1 278.5h1.5V287.4h-1.5zM659.1 278.2h1.5V286.3h-1.5zM662.0 276.6h1.5V285.6h-1.5zM665.0 275.6h1.5V286.6h-1.5zM668.0 278.4h1.5V288.9h-1.5zM671.0 281.9h1.5V291.2h-1.5zM673.9 283.6h1.5V293.4h-1.5zM676.9 285.1h1.5V294.9h-1.5zM679.9 287.5h1.5V296.0h-1.5zM682.8 290.1h1.5V297.8h-1.5zM685.8 291.3h1.5V299.6h-1.5zM688.8 292.5h1.5V301.1h-1.5zM691.7 294.2h1.5V302.6h-1.5zM694.7 296.0h1.5V304.0h-1.5zM697.7 299.0h1.5V305.4h-1.5zM700.7 301.2h1.5V306.2h-1.5zM703.6 303.1h1.5V306.8h-1.5zM706.6 302.5h1.5V307.4h-1.5zM709.6 301.4h1.5V307.4h-1.5zM712.5 302.2h1.5V307.4h-1.5zM715.5 302.6h1.5V307.4h-1.5zM718.5 302.1h1.5V306.7h-1.5zM721.5 300.7h1.5V305.8h-1.5zM724.4 298.9h1.5V305.8h-1.5zM727.4 296.6h1.5V306.6h-1.5zM730.4 293.9h1.5V304.0h-1.5zM733.3 290.1h1.5V300.4h-1.5zM736.3 284.9h1.5V296.0h-1.5zM739.3 279.2h1.5V294.1h-1.5zM742.3 274.5h1.5V294.0h-1.5zM745.2 277.7h1.5V292.0h-1.5zM748.2 284.4h1.5V290.8h-1.5zM751.2 290.0h1.5V291.7h-1.5zM754.1 295.8h1.5V297.0h-1.5zM757.1 301.1h1.5V301.8h-1.5zM760.1 301.4h1.5V303.5h-1.5zM763.1 302.1h1.5V305.4h-1.5zM766.0 307.1h1.5V310.4h-1.5zM769.0 308.1h1.5V315.0h-1.5zM772.0 314.1h1.5V318.7h-1.5zM774.9 317.6h1.5V325.9h-1.5zM777.9 325.9h1.5V330.0h-1.5zM780.9 324.4h1.5V335.9h-1.5zM783.9 323.5h1.5V337.4h-1.5zM786.8 322.8h1.5V338.9h-1.5zM789.8 324.0h1.5V340.4h-1.5zM792.8 322.4h1.5V341.8h-1.5zM795.7 318.5h1.5V336.3h-1.5zM798.7 319.4h1.5V331.4h-1.5zM801.7 314.6h1.5V322.1h-1.5zM804.6 313.0h1.5V314.7h-1.5zM807.6 312.2h1.5V312.7h-1.5zM810.6 311.4h1.5V311.7h-1.5zM813.6 312.6h1.5V313.2h-1.5zM816.5 310.2h1.5V310.9h-1.5zM819.5 309.0h1.5V310.2h-1.5zM822.5 307.5h1.5V308.9h-1.5zM825.4 300.6h1.5V304.7h-1.5zM828.4 296.5h1.5V302.9h-1.5zM831.4 297.7h1.5V307.0h-1.5zM834.4 296.9h1.5V308.7h-1.5zM837.3 295.7h1.5V310.3h-1.5zM840.3 294.3h1.5V311.9h-1.5zM843.3 289.6h1.5V307.6h-1.5zM846.2 287.7h1.5V306.3h-1.5zM849.2 285.2h1.5V303.0h-1.5zM852.2 288.1h1.5V301.6h-1.5zM855.2 290.5h1.5V301.4h-1.5zM858.1 295.1h1.5V304.1h-1.5zM861.1 306.0h1.5V312.9h-1.5zM864.1 316.0h1.5V319.4h-1.5zM867.0 314.3h1.5V317.7h-1.5zM870.0 315.6h1.5V318.5h-1.5zM873.0 318.8h1.5V321.5h-1.5zM876.0 412.7h1.5V413.3h-1.5zM876.0 325.1h1.5V325.9h-1.5zM878.9 413.9h1.5V415.5h-1.5zM878.9 330.1h1.5V333.0h-1.5zM908.6 419.1h1.5V420.1h-1.5zM920.5 408.0h1.5V409.4h-1.5zM923.5 406.2h1.5V412.9h-1.5zM926.5 404.5h1.5V416.9h-1.5zM929.4 403.4h1.5V419.6h-1.5zM932.4 405.0h1.5V419.7h-1.5zM935.4 410.3h1.5V421.0h-1.5zM938.3 413.3h1.5V423.8h-1.5zM941.3 414.3h1.5V421.9h-1.5zM944.3 414.7h1.5V419.7h-1.5zM947.3 414.1h1.5V419.4h-1.5zM950.2 413.2h1.5V419.9h-1.5zM953.2 411.0h1.5V421.0h-1.5zM956.2 409.1h1.5V418.7h-1.5zM959.1 406.7h1.5V413.8h-1.5zM962.1 404.3h1.5V412.5h-1.5zM965.1 402.1h1.5V415.0h-1.5zM968.1 400.7h1.5V421.7h-1.5zM971.0 399.7h1.5V426.1h-1.5zM974.0 398.7h1.5V424.0h-1.5zM977.0 398.0h1.5V420.9h-1.5zM979.9 397.2h1.5V419.1h-1.5zM982.9 396.5h1.5V416.6h-1.5zM985.9 396.4h1.5V413.6h-1.5zM988.8 397.6h1.5V412.5h-1.5zM991.8 398.2h1.5V413.7h-1.5zM994.8 398.6h1.5V415.4h-1.5zM997.8 399.3h1.5V415.4h-1.5zM1000.7 400.0h1.5V412.1h-1.5zM1003.7 400.0h1.5V410.6h-1.5zM1006.7 400.0h1.5V409.1h-1.5zM1009.6 399.7h1.5V408.0h-1.5zM1012.6 399.4h1.5V407.0h-1.5zM1015.6 398.8h1.5V406.0h-1.5zM1018.6 398.2h1.5V405.5h-1.5zM1021.5 397.2h1.5V404.9h-1.5zM1024.5 396.1h1.5V402.3h-1.5zM1027.5 394.2h1.5V398.0h-1.5zM1030.4 390.9h1.5V392.9h-1.5zM1033.4 376.7h1.5V389.3h-1.5zM1033.4 340.4h1.5V341.2h-1.5zM1036.4 336.1h1.5V340.1h-1.5zM1039.4 329.0h1.5V339.5h-1.5zM1042.3 327.4h1.5V340.7h-1.5zM1045.3 329.1h1.5V343.0h-1.5zM1048.3 326.3h1.5V339.7h-1.5zM1051.2 323.3h1.5V335.2h-1.5zM1054.2 320.3h1.5V330.4h-1.5zM1057.2 316.1h1.5V326.8h-1.5zM1060.2 317.9h1.5V329.1h-1.5zM1063.1 313.4h1.5V325.4h-1.5zM1066.1 311.6h1.5V323.6h-1.5zM1069.1 312.7h1.5V322.1h-1.5zM1072.0 312.1h1.5V320.3h-1.5zM1075.0 313.3h1.5V320.0h-1.5zM1078.0 317.5h1.5V322.9h-1.5zM1081.0 319.3h1.5V327.1h-1.5zM1083.9 322.9h1.5V331.9h-1.5zM1086.9 321.6h1.5V330.8h-1.5zM1089.9 321.3h1.5V329.8h-1.5zM1092.8 317.8h1.5V328.8h-1.5zM1095.8 314.5h1.5V327.9h-1.5zM1098.8 311.7h1.5V327.7h-1.5zM1101.7 310.1h1.5V327.3h-1.5zM1104.7 311.9h1.5V328.1h-1.5zM1107.7 315.4h1.5V328.4h-1.5zM1110.7 318.4h1.5V328.7h-1.5zM1113.6 321.4h1.5V329.4h-1.5zM1116.6 319.0h1.5V328.9h-1.5zM1119.6 318.7h1.5V328.7h-1.5zM1122.5 319.9h1.5V328.7h-1.5zM1125.5 322.0h1.5V328.8h-1.5zM1128.5 324.9h1.5V329.1h-1.5zM1131.5 326.6h1.5V329.4h-1.5zM1134.4 327.3h1.5V329.7h-1.5zM1137.4 326.2h1.5V330.0h-1.5zM1140.4 324.0h1.5V330.1h-1.5zM1143.3 320.4h1.5V330.1h-1.5zM1146.3 319.4h1.5V330.8h-1.5zM1149.3 321.1h1.5V332.0h-1.5zM1152.3 322.7h1.5V334.0h-1.5zM1155.2 326.2h1.5V336.9h-1.5zM1158.2 327.3h1.5V339.8h-1.5zM1161.2 327.9h1.5V342.2h-1.5zM1164.1 328.7h1.5V344.6h-1.5zM1167.1 327.6h1.5V346.8h-1.5zM1170.1 325.0h1.5V342.6h-1.5zM1173.1 321.3h1.5V336.7h-1.5zM1176.0 314.8h1.5V330.8h-1.5zM1179.0 310.1h1.5V327.1h-1.5zM1182.0 298.3h1.5V323.8h-1.5zM1184.9 286.7h1.5V317.1h-1.5zM1187.9 268.8h1.5V281.8h-1.5zM1190.9 241.1h1.5V272.7h-1.5zM1193.8 228.8h1.5V259.6h-1.5zM1196.8 227.8h1.5V262.5h-1.5zM1199.8 246.9h1.5V268.0h-1.5zM1202.8 254.2h1.5V277.9h-1.5zM1205.7 267.3h1.5V282.7h-1.5zM1208.7 259.0h1.5V289.8h-1.5zM1211.7 255.4h1.5V289.8h-1.5zM1214.6 235.2h1.5V280.5h-1.5zM1217.6 220.5h1.5V255.5h-1.5zM1220.6 207.8h1.5V246.0h-1.5zM1223.6 195.9h1.5V234.2h-1.5zM1226.5 184.0h1.5V218.5h-1.5zM1229.5 172.5h1.5V212.4h-1.5zM1232.5 167.7h1.5V205.3h-1.5zM1235.4 163.0h1.5V199.3h-1.5zM1238.4 158.5h1.5V188.6h-1.5zM1241.4 152.7h1.5V184.2h-1.5zM1244.4 150.2h1.5V181.1h-1.5zM1247.3 147.9h1.5V176.5h-1.5zM1250.3 149.0h1.5V177.6h-1.5zM1253.3 150.6h1.5V171.7h-1.5zM1256.2 150.9h1.5V169.1h-1.5zM1259.2 155.6h1.5V167.5h-1.5zM1262.2 161.2h1.5V172.9h-1.5zM1265.2 166.7h1.5V175.9h-1.5zM1268.1 173.6h1.5V180.9h-1.5zM1271.1 181.1h1.5V190.3h-1.5zM1277.0 385.0h1.5V387.9h-1.5zM1277.0 204.8h1.5V208.0h-1.5zM1280.0 386.7h1.5V389.3h-1.5zM1280.0 213.8h1.5V216.0h-1.5zM1283.0 385.2h1.5V388.6h-1.5zM1285.9 383.1h1.5V387.1h-1.5zM1285.9 242.6h1.5V244.3h-1.5zM1288.9 380.1h1.5V384.1h-1.5zM1291.9 375.8h1.5V381.1h-1.5zM1291.9 258.8h1.5V264.1h-1.5zM1294.9 373.0h1.5V378.2h-1.5zM1294.9 269.6h1.5V273.3h-1.5zM1297.8 370.9h1.5V375.2h-1.5zM1297.8 278.2h1.5V279.4h-1.5zM1300.8 366.4h1.5V372.3h-1.5zM1300.8 282.1h1.5V287.3h-1.5zM1303.8 291.6h1.5V292.7h-1.5zM1306.7 296.1h1.5V297.4h-1.5zM1330.5 313.5h1.5V315.9h-1.5z"/>
<line x1="40.5" x2="1333.3" y1="351.9" y2="351.9" stroke="#cdd1cd" stroke-width="1.7"/>
<path d="M40.8 351.9v5.5M112.1 351.9v5.5M183.4 351.9v5.5M254.7 351.9v5.5M326.0 351.9v5.5M397.3 351.9v5.5M468.6 351.9v5.5M539.9 351.9v5.5M611.2 351.9v5.5M682.5 351.9v5.5M753.8 351.9v5.5M825.1 351.9v5.5M896.4 351.9v5.5M967.7 351.9v5.5M1039.0 351.9v5.5M1110.3 351.9v5.5M1181.6 351.9v5.5M1252.9 351.9v5.5M1324.2 351.9v5.5" stroke="#dcdcdc" stroke-width="1.2" fill="none"/>
<g clip-path="url(#cp)" fill="none" stroke="#fff" stroke-linejoin="round">
<path d="M40.8 141.7 L43.4 128.7 L47.3 121.8 L51.6 117.9 L57.1 108.2 L64.6 98.0 L69.0 87.6 L72.2 77.9 L76.5 72.5 L80.9 62.7 L86.7 53.4 L91.7 55.6 L94.9 56.9 L99.3 63.8 L105.8 76.8 L110.1 89.8 L114.4 102.8 L118.7 122.3 L123.1 141.7 L127.4 156.9 L131.7 168.7 L138.2 179.5 L142.6 194.6 L146.9 211.9 L151.2 227.1 L155.5 233.6 L159.9 241.2 L164.2 255.2 L166.7 270.0 L168.5 270.4 L171.7 283.3 L172.9 283.4 L176.7 298.3 L181.7 311.7 L185.8 315.0 L189.2 314.7 L193.3 321.7 L198.3 327.5 L202.5 327.5 L208.3 331.7 L216.7 335.8 L223.3 340.0 L227.5 340.3 L233.3 338.3 L240.0 335.0 L246.7 333.3 L253.3 328.3 L258.3 318.3 L263.3 315.8 L268.3 316.3 L273.3 313.7 L277.5 315.0 L283.3 310.8 L286.7 310.5 L291.7 316.7 L295.0 317.5 L300.0 315.0 L304.2 311.7 L308.3 314.2 L312.5 315.0 L316.7 320.0 L320.0 323.4 L323.7 321.2 L326.7 320.4 L330.5 324.9 L335.0 318.9 L339.5 315.2 L344.0 313.7 L347.7 309.9 L351.5 301.7 L356.0 292.7 L359.7 288.2 L362.7 291.2 L365.7 289.7 L368.7 293.5 L371.7 296.5 L374.7 295.0 L377.7 293.5 L381.4 295.7 L385.9 301.0 L390.4 306.9 L394.9 313.7 L398.7 315.9 L403.9 318.9 L408.4 321.2 L412.9 320.4 L417.4 317.4 L421.9 314.4 L426.4 310.7 L430.9 306.9 L435.4 302.5 L439.9 299.5 L442.1 297.1 L450.1 295.7 L455.4 296.4 L460.8 295.7 L466.1 296.4 L471.5 297.1 L476.8 293.7 L482.1 289.7 L487.5 286.4 L490.8 284.4 L494.2 289.7 L498.2 300.4 L502.2 311.1 L504.8 317.1 L510.2 316.4 L515.5 317.8 L519.5 323.1 L523.5 329.8 L526.9 332.4 L530.2 327.1 L535.6 317.8 L540.9 313.1 L546.2 319.1 L551.6 324.4 L555.2 327.3 L560.7 322.8 L564.7 312.8 L570.0 303.4 L575.4 295.4 L580.7 290.1 L584.7 282.0 L588.7 272.7 L592.7 266.0 L596.7 264.7 L600.7 268.7 L604.7 270.0 L610.1 268.7 L614.1 266.0 L618.1 260.0 L622.1 261.3 L626.1 266.7 L630.1 268.0 L636.8 268.0 L643.5 270.0 L648.8 272.0 L652.8 280.7 L656.8 284.0 L660.8 282.7 L664.8 282.0 L668.8 286.0 L674.2 291.4 L679.5 294.7 L684.8 296.1 L688.9 298.1 L694.2 304.7 L700.0 309.7 L706.0 311.2 L712.0 311.9 L716.5 317.2 L719.5 317.9 L722.5 313.4 L726.9 305.9 L731.4 299.9 L735.9 296.9 L738.9 297.7 L741.9 304.4 L744.9 317.9 L747.2 329.9 L749.4 341.9 L751.6 353.8 L753.9 365.8 L756.1 377.8 L758.4 389.8 L759.9 397.7 L763.7 431.3 L768.5 450.5 L772.3 462.0 L776.1 466.7 L780.0 466.7 L783.8 454.3 L786.7 440.9 L789.5 425.6 L792.4 412.2 L795.4 389.4 L798.1 384.1 L802.1 372.7 L806.1 371.4 L810.1 369.4 L814.1 367.4 L818.1 360.1 L822.1 356.7 L825.5 354.7 L828.8 340.7 L832.8 338.0 L836.8 335.4 L840.8 335.4 L844.8 332.0 L850.2 332.0 L854.2 337.4 L858.2 343.4 L861.5 352.0 L863.5 361.4 L866.2 366.7 L870.2 371.4 L874.2 377.4 L876.9 382.8 L879.5 389.4 L882.2 396.1 L884.9 398.8 L889.4 403.4 L894.7 400.7 L900.1 402.0 L904.1 405.4 L905.0 407.1 L909.0 407.8 L913.0 405.1 L918.4 401.7 L923.7 399.7 L927.7 401.7 L931.7 398.4 L937.0 396.4 L941.0 391.7 L945.1 388.4 L950.4 390.4 L955.7 387.7 L959.7 383.7 L963.7 379.7 L967.8 385.7 L971.8 391.7 L975.8 389.7 L981.1 387.7 L985.1 383.1 L989.1 378.4 L993.1 383.7 L997.1 387.1 L1001.1 386.4 L1006.5 384.4 L1011.8 382.4 L1017.1 384.4 L1022.5 386.4 L1026.5 386.4 L1030.5 383.7 L1033.2 379.7 L1035.8 373.0 L1038.5 366.4 L1041.2 361.0 L1045.2 356.3 L1049.2 353.0 L1053.2 349.0 L1057.2 345.0 L1059.9 341.4 L1063.2 336.7 L1065.2 334.1 L1068.6 332.1 L1071.9 330.7 L1075.2 330.1 L1078.6 332.1 L1081.9 335.4 L1084.6 336.7 L1085.0 334.1 L1087.9 334.7 L1089.0 331.4 L1090.0 334.1 L1093.0 328.7 L1097.0 325.4 L1101.0 322.0 L1105.0 322.0 L1109.0 325.4 L1113.0 328.7 L1117.0 328.7 L1121.0 328.7 L1125.1 331.4 L1129.1 336.7 L1132.4 343.4 L1135.7 352.8 L1136.4 354.7 L1138.4 358.1 L1139.7 360.0 L1141.1 361.4 L1143.7 363.4 L1147.1 364.7 L1150.4 372.0 L1153.1 382.7 L1155.8 394.7 L1157.8 400.7 L1160.4 397.4 L1163.1 384.1 L1165.8 368.0 L1168.4 353.4 L1171.1 340.0 L1184.7 295.1 L1188.1 279.1 L1191.4 260.4 L1194.1 251.0 L1196.7 248.4 L1200.1 256.4 L1203.4 267.1 L1206.1 269.7 L1208.7 260.4 L1211.4 247.0 L1214.1 232.4 L1216.8 221.7 L1219.4 207.4 L1222.1 195.4 L1224.8 183.4 L1227.4 174.0 L1230.1 168.0 L1233.4 163.4 L1236.8 158.0 L1239.5 153.4 L1242.1 150.0 L1244.1 148.7 L1246.8 150.0 L1250.1 155.4 L1252.8 161.4 L1256.1 167.4 L1258.8 174.0 L1262.1 183.4 L1264.8 191.4 L1267.5 199.4 L1270.2 207.4 L1273.5 216.8 L1274.2 232.4 L1276.8 237.7 L1280.2 248.4 L1283.5 264.4 L1285.4 280.0 L1286.2 276.4 L1289.5 285.3 L1290.2 283.1 L1292.9 288.4 L1293.5 294.7 L1295.5 295.1 L1296.1 300.7 L1300.1 302.0 L1304.1 303.4 L1306.8 305.4 L1310.8 307.4 L1313.5 312.7 L1316.8 314.7 L1319.5 317.4 L1322.2 314.7 L1325.5 314.7 L1328.2 314.4 L1331.5 313.4" stroke-width="3.8" stroke-linecap="round"/>
<path d="M41.0 40.0 L53.8 40.0 L54.5 52.0 L56.5 81.0 L58.5 52.0 L59.3 40.0 L67.5 40.0 L68.5 60.0 L69.5 78.0 L70.4 103.0 L71.2 131.0 L72.0 110.0 L73.0 88.0 L74.0 65.0 L75.0 40.0 L79.0 40.0 L80.8 61.0 L82.5 40.0 L100.3 40.0 L101.6 57.0 L102.6 40.0 L109.4 40.0 L110.7 65.0 L112.4 78.0 L113.5 90.0 L115.7 98.5 L118.2 93.3 L119.0 100.0 L120.7 111.6 L122.4 125.0 L124.0 137.0 L126.0 152.0 L128.0 160.0 L130.0 140.0 L133.9 116.8 L137.0 135.0 L140.0 160.0 L143.6 183.0 L146.0 150.0 L148.0 130.0 L150.0 105.0 L152.3 78.0 L153.5 120.0 L154.5 168.0 L155.0 201.0 L157.7 212.0 L161.0 201.0 L163.1 214.0 L165.3 235.8 L168.5 251.0 L171.8 240.0 L172.9 257.4 L177.2 275.0 L179.4 291.0 L181.6 312.0 L183.5 332.0 L185.0 356.0 L186.5 390.0 L187.5 413.0 L188.5 385.0 L189.7 360.0 L191.7 336.7 L194.2 353.3 L196.7 348.0 L198.3 341.7 L200.0 350.0 L203.3 365.0 L206.7 376.7 L208.3 391.7 L210.0 373.0 L211.7 360.0 L214.2 353.3 L216.7 350.0 L218.3 342.0 L219.2 325.0 L220.8 303.0 L222.5 281.7 L223.3 295.0 L224.2 312.0 L225.0 336.7 L225.8 353.3 L227.5 341.7 L229.2 328.3 L231.7 311.7 L235.0 320.0 L236.7 323.0 L240.0 316.7 L243.3 303.3 L246.7 308.3 L250.0 291.7 L252.5 303.3 L255.0 328.3 L256.7 336.7 L258.3 320.0 L260.8 300.0 L262.5 311.7 L264.2 328.3 L266.7 341.7 L268.3 352.0 L272.5 361.7 L274.2 368.3 L276.7 356.7 L280.0 353.3 L282.5 343.3 L285.0 356.7 L286.7 368.3 L289.2 356.7 L290.8 333.3 L292.5 340.0 L295.0 350.0 L296.7 372.0 L299.2 390.0 L300.8 395.0 L303.3 386.7 L305.8 368.3 L308.3 358.3 L311.7 356.7 L314.2 373.3 L315.8 388.3 L318.3 381.7 L320.0 370.0 L321.7 361.7 L324.2 376.7 L326.7 396.7 L327.5 404.2 L329.2 381.7 L330.8 360.0 L332.5 340.0 L333.3 336.7 L335.0 320.0 L337.5 310.0 L340.0 308.3 L341.7 295.0 L345.0 288.3 L347.0 282.0 L349.0 270.0 L351.0 261.0 L353.0 275.0 L354.5 281.0 L357.0 262.0 L359.6 247.0 L361.8 255.0 L363.5 248.0 L365.4 272.0 L367.0 245.0 L369.0 220.0 L372.6 234.0 L374.8 250.0 L378.4 258.5 L380.6 268.0 L382.8 264.0 L385.0 268.7 L387.1 263.0 L389.3 252.8 L391.0 263.0 L392.2 277.4 L393.8 282.5 L395.5 284.0 L397.0 293.0 L398.1 310.6 L401.4 325.8 L403.5 336.6 L405.7 345.2 L407.9 356.0 L410.0 336.6 L411.1 325.8 L413.3 332.0 L416.5 323.6 L418.7 321.4 L422.0 332.0 L425.2 344.2 L427.4 336.0 L428.4 321.0 L429.8 290.4 L430.6 274.0 L431.3 263.0 L432.7 253.0 L434.1 244.0 L435.6 255.6 L437.0 267.0 L438.5 276.0 L440.0 273.0 L441.4 263.0 L442.8 259.3 L445.0 265.8 L446.4 274.5 L447.2 284.6 L449.3 286.0 L450.8 274.5 L453.0 268.7 L454.4 262.9 L458.0 259.3 L460.2 252.8 L462.4 249.9 L464.5 254.0 L465.3 275.0 L466.2 300.0 L467.0 317.0 L468.0 300.0 L469.0 286.0 L471.8 280.0 L473.2 268.7 L474.7 260.0 L476.1 251.3 L477.5 262.9 L479.0 273.0 L481.2 268.7 L483.3 260.0 L485.5 251.3 L487.7 242.6 L489.1 254.0 L489.8 265.8 L490.6 274.5 L492.0 283.0 L493.5 280.0 L495.6 276.0 L497.1 273.0 L498.5 281.7 L500.7 289.0 L502.2 283.0 L503.6 267.0 L504.3 252.8 L505.8 241.9 L507.2 252.8 L508.7 263.0 L510.1 274.5 L510.8 287.5 L512.9 295.5 L515.5 290.0 L517.2 278.0 L519.4 293.3 L520.4 315.0 L522.6 332.3 L524.8 336.6 L527.0 341.0 L529.1 351.7 L531.3 364.7 L533.4 380.0 L536.2 385.0 L538.8 356.0 L541.0 380.0 L543.2 387.0 L546.4 364.7 L549.7 358.0 L552.9 371.2 L556.0 377.7 L559.4 371.2 L560.5 358.0 L562.6 345.2 L565.9 336.6 L568.0 325.8 L570.2 315.0 L572.4 330.0 L573.5 347.4 L575.6 362.6 L577.8 354.0 L581.0 345.0 L586.5 341.0 L589.7 334.4 L591.9 319.3 L594.0 306.3 L596.2 315.0 L599.4 325.8 L602.7 321.4 L605.9 310.6 L608.0 304.0 L611.3 299.8 L614.6 292.2 L617.8 304.0 L621.0 317.0 L624.3 310.6 L627.6 297.6 L629.7 295.5 L633.0 286.8 L635.2 293.3 L638.4 304.0 L640.6 319.3 L642.7 338.7 L644.9 325.8 L646.0 308.4 L650.3 310.6 L653.5 304.0 L656.8 289.0 L658.7 294.0 L661.5 303.4 L663.5 316.8 L665.5 323.4 L667.5 314.0 L669.5 303.4 L670.8 294.0 L672.8 292.7 L674.8 298.0 L678.2 290.0 L680.2 300.7 L681.5 312.7 L682.9 306.0 L684.9 294.0 L687.5 292.7 L690.2 291.4 L692.2 288.7 L694.2 286.0 L696.2 276.7 L697.5 263.4 L698.9 254.0 L700.2 246.0 L702.2 254.0 L703.5 263.4 L704.9 276.7 L706.9 290.0 L707.5 296.7 L709.5 287.4 L710.9 281.4 L712.2 290.0 L713.6 296.7 L715.6 286.0 L716.9 283.4 L718.9 287.4 L720.9 284.7 L722.9 279.4 L724.9 274.7 L726.2 283.4 L727.6 294.0 L728.2 303.4 L728.9 312.7 L730.2 319.4 L732.2 324.8 L735.0 336.0 L738.0 346.5 L742.5 345.0 L745.5 336.0 L747.0 330.0 L750.0 350.0 L755.0 380.0 L762.0 408.0 L764.3 416.8 L764.9 428.8 L766.4 434.8 L770.0 460.0 L773.9 482.7 L776.9 491.7 L779.9 500.7 L781.4 501.3 L784.4 485.7 L787.4 464.7 L790.4 449.8 L793.4 437.8 L794.9 449.8 L796.3 464.7 L798.4 478.2 L800.8 467.7 L803.8 434.8 L805.3 410.8 L806.8 398.9 L809.8 394.4 L812.8 401.9 L815.8 394.4 L818.8 404.9 L820.3 415.3 L823.3 407.8 L826.3 419.8 L829.3 440.8 L832.3 416.8 L835.3 386.9 L838.3 401.9 L841.3 416.8 L844.3 428.8 L847.2 416.8 L851.7 404.9 L855.3 389.9 L857.7 401.9 L859.2 419.8 L860.1 439.3 L862.2 404.9 L865.2 392.9 L869.7 401.9 L872.7 397.4 L875.7 404.9 L878.7 401.9 L881.7 416.8 L883.2 428.8 L886.2 433.3 L889.2 431.8 L892.2 443.8 L896.6 455.7 L899.6 466.2 L902.6 455.7 L904.1 437.8 L907.1 446.8 L911.6 445.3 L914.6 452.8 L917.6 457.2 L920.6 446.8 L923.6 455.7 L926.6 440.8 L929.6 410.8 L931.1 401.9 L933.2 419.8 L935.6 449.8 L938.0 464.7 L941.6 458.7 L946.0 457.2 L949.0 455.7 L951.2 439.7 L952.5 418.4 L955.2 397.1 L956.5 391.8 L959.2 402.5 L961.8 410.5 L964.5 413.0 L966.6 391.8 L967.7 367.9 L969.3 343.9 L971.1 326.6 L973.8 341.2 L977.8 343.9 L981.8 337.2 L984.4 337.2 L986.3 351.9 L988.4 373.2 L990.6 394.5 L992.4 413.0 L995.1 394.5 L996.4 386.5 L1000.4 379.8 L1004.4 375.8 L1007.1 371.9 L1009.7 370.5 L1012.4 373.2 L1016.4 381.2 L1020.4 379.8 L1024.4 365.2 L1027.0 357.2 L1031.0 354.5 L1033.2 362.5 L1035.0 381.2 L1037.7 397.1 L1040.4 405.0 L1044.4 399.8 L1048.4 386.5 L1051.0 382.5 L1055.0 389.2 L1060.3 382.5 L1064.3 381.2 L1067.0 373.2 L1071.0 365.2 L1075.0 359.9 L1077.6 349.2 L1080.3 351.9 L1083.0 365.2 L1085.0 364.8 L1087.7 356.8 L1090.3 346.0 L1093.0 336.7 L1096.3 343.4 L1098.4 335.4 L1100.4 331.4 L1105.0 323.4 L1108.4 312.7 L1109.7 318.0 L1111.7 323.4 L1115.7 326.0 L1117.7 312.7 L1120.4 308.7 L1123.7 298.7 L1125.7 307.4 L1127.7 316.7 L1129.7 323.4 L1131.7 326.0 L1133.7 336.7 L1135.7 343.4 L1138.4 345.4 L1141.1 347.4 L1142.4 354.0 L1143.7 359.4 L1145.7 363.0 L1148.0 384.0 L1149.8 397.0 L1150.5 420.0 L1152.5 470.0 L1154.5 520.0 L1156.0 552.0 L1157.0 568.0 L1158.2 552.0 L1160.0 510.0 L1162.0 470.0 L1164.0 430.0 L1166.3 402.0 L1167.5 380.0 L1168.5 362.0 L1170.0 345.0 L1171.8 329.8 L1174.5 303.2 L1177.0 292.6 L1179.8 300.6 L1182.5 296.6 L1184.5 276.6 L1186.5 255.0 L1187.6 200.0 L1188.2 120.0 L1190.0 95.0 L1191.6 87.5 L1193.3 98.0 L1194.5 130.0 L1195.8 160.0 L1197.0 195.0 L1199.4 217.8 L1201.0 241.0 L1202.5 260.0 L1204.7 282.0 L1207.4 295.0 L1210.0 300.0 L1212.0 295.0 L1213.4 268.0 L1214.8 245.0 L1217.4 244.0 L1220.8 243.0 L1222.8 247.0 L1225.0 241.0 L1226.1 222.4 L1228.5 208.5 L1232.0 189.8 L1235.5 171.2 L1237.8 159.6 L1241.3 147.9 L1243.6 143.3 L1244.8 134.0 L1247.1 143.3 L1249.4 161.9 L1251.3 185.2 L1252.9 166.6 L1254.1 143.3 L1256.4 136.3 L1258.7 124.7 L1260.0 118.0 L1263.0 108.0 L1266.0 103.0 L1269.0 106.0 L1272.7 120.0 L1274.6 143.3 L1276.2 166.6 L1277.4 187.5 L1279.2 202.7 L1282.0 200.3 L1284.4 210.8 L1286.7 217.8 L1290.2 222.4 L1292.5 213.1 L1294.1 217.8 L1296.0 231.7 L1299.5 243.4 L1303.0 246.9 L1305.3 255.0 L1307.5 261.7 L1308.9 252.4 L1310.2 239.0 L1311.5 221.7 L1312.9 200.0 L1314.2 180.5 L1315.1 196.8 L1317.0 213.1 L1319.3 209.6 L1322.8 214.3 L1325.8 220.1 L1326.2 228.4 L1327.6 248.4 L1328.2 261.7 L1331.0 267.0" stroke-width="2.6" stroke-dasharray="7 3"/>
</g>
<rect x="422" y="62" width="583" height="106" fill="#13253f"/>
<g font-size="20.2" letter-spacing="0.3" fill="#d6d6d6"><rect x="434" y="71.2" width="44" height="10.8" fill="#a070ff"/><text x="484" y="82.5">Trend</text><rect x="434" y="96.7" width="44" height="10.8" fill="#5098ff"/><text x="484" y="108">Labour market tightness</text><rect x="434" y="122.7" width="44" height="10.8" fill="#ff7800"/><text x="484" y="134">Supply</text><rect x="726.3" y="71.2" width="44.5" height="10.8" fill="#a8d800"/><text x="776.5" y="82.5">Other demand</text><rect x="726.3" y="96.7" width="44.5" height="10.8" fill="#40d8dc"/><text x="776.5" y="108">Global demand</text><rect x="726.3" y="122.7" width="44.5" height="10.8" fill="#d4af37"/><text x="776.5" y="134">Global supply</text><line x1="434" x2="477.5" y1="153.2" y2="153.2" stroke="#fff" stroke-width="4" stroke-linecap="round"/><text x="484" y="159.6">Model prediction</text><line x1="726.5" x2="772" y1="153.2" y2="153.2" stroke="#fff" stroke-width="2.6" stroke-dasharray="6.5 3"/><text x="776.5" y="159.6">Wage growth</text></g>
<g font-size="20.1" fill="#d6d6d6"><text x="1344.8" y="559.1">-1</text><text x="1351.5" y="508.9">0</text><text x="1351.5" y="458.8">1</text><text x="1351.5" y="408.7">2</text><text x="1351.5" y="358.5">3</text><text x="1351.5" y="308.4">4</text><text x="1351.5" y="258.2">5</text><text x="1351.5" y="208.0">6</text><text x="1351.5" y="157.9">7</text><text x="1351.5" y="107.8">8</text><text x="1351.5" y="57.6">9</text><text x="42.5" y="584.3" text-anchor="middle">1989</text><text x="113.8" y="584.3" text-anchor="middle">1991</text><text x="185.1" y="584.3" text-anchor="middle">1993</text><text x="256.4" y="584.3" text-anchor="middle">1995</text><text x="327.7" y="584.3" text-anchor="middle">1997</text><text x="399.0" y="584.3" text-anchor="middle">1999</text><text x="470.3" y="584.3" text-anchor="middle">2001</text><text x="541.6" y="584.3" text-anchor="middle">2003</text><text x="612.9" y="584.3" text-anchor="middle">2005</text><text x="684.2" y="584.3" text-anchor="middle">2007</text><text x="755.5" y="584.3" text-anchor="middle">2009</text><text x="826.8" y="584.3" text-anchor="middle">2011</text><text x="898.1" y="584.3" text-anchor="middle">2013</text><text x="969.4" y="584.3" text-anchor="middle">2015</text><text x="1040.7" y="584.3" text-anchor="middle">2017</text><text x="1112.0" y="584.3" text-anchor="middle">2019</text><text x="1183.3" y="584.3" text-anchor="middle">2021</text><text x="1254.6" y="584.3" text-anchor="middle">2023</text><text x="1325.9" y="584.3" text-anchor="middle">2025</text><text x="1327.5" y="33.2" text-anchor="end" font-size="20.6">Percent</text></g>
</svg>
</body></html>
